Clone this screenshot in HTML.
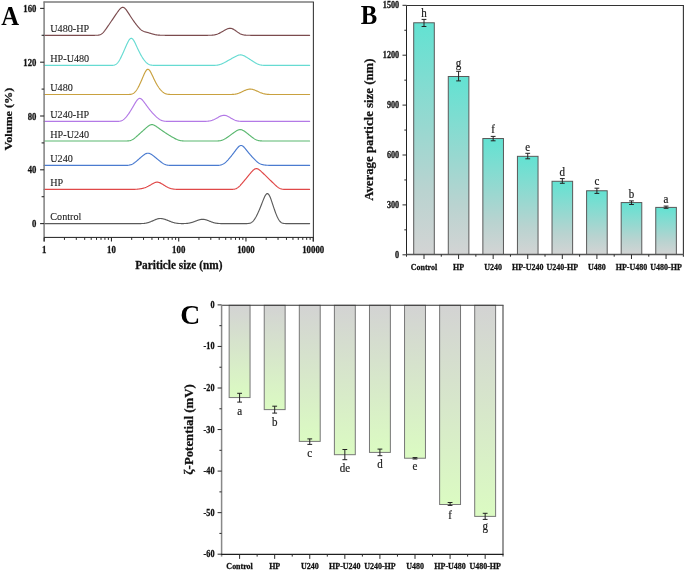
<!DOCTYPE html>
<html><head><meta charset="utf-8"><title>Figure</title>
<style>
html,body{margin:0;padding:0;background:#fff;}
body{width:685px;height:572px;overflow:hidden;font-family:"Liberation Serif",serif;}
svg{display:block;will-change:transform;}
</style></head><body>
<svg width="685" height="572" viewBox="0 0 685 572" font-family='"Liberation Serif", serif'><defs><linearGradient id="gB" x1="0" y1="0" x2="0" y2="1"><stop offset="0" stop-color="#62e2d2"/><stop offset="0.45" stop-color="#98d8d0"/><stop offset="0.72" stop-color="#b9d3d0"/><stop offset="1" stop-color="#d3d4d4"/></linearGradient><linearGradient id="gC" x1="0" y1="0" x2="0" y2="1"><stop offset="0" stop-color="#d3d3d3"/><stop offset="1" stop-color="#dbfbc2"/></linearGradient></defs><g fill="none" stroke-linejoin="round" stroke-linecap="round">
<polyline points="44.1,35.30 44.6,35.30 45.1,35.30 45.6,35.30 46.1,35.30 46.6,35.30 47.1,35.30 47.6,35.30 48.1,35.30 48.6,35.30 49.1,35.30 49.6,35.30 50.1,35.30 50.6,35.30 51.1,35.30 51.6,35.30 52.1,35.30 52.6,35.30 53.1,35.30 53.6,35.30 54.1,35.30 54.6,35.30 55.1,35.30 55.6,35.30 56.1,35.30 56.6,35.30 57.1,35.30 57.6,35.30 58.1,35.30 58.6,35.30 59.1,35.30 59.6,35.30 60.1,35.30 60.6,35.30 61.1,35.30 61.6,35.30 62.1,35.30 62.6,35.30 63.1,35.30 63.6,35.30 64.1,35.30 64.6,35.30 65.1,35.30 65.6,35.30 66.1,35.30 66.6,35.30 67.1,35.30 67.6,35.30 68.1,35.30 68.6,35.30 69.1,35.30 69.6,35.30 70.1,35.30 70.6,35.30 71.1,35.30 71.6,35.30 72.1,35.30 72.6,35.30 73.1,35.30 73.6,35.30 74.1,35.30 74.6,35.30 75.1,35.30 75.6,35.30 76.1,35.30 76.6,35.30 77.1,35.30 77.6,35.30 78.1,35.30 78.6,35.30 79.1,35.30 79.6,35.30 80.1,35.30 80.6,35.30 81.1,35.30 81.6,35.30 82.1,35.30 82.6,35.30 83.1,35.30 83.6,35.30 84.1,35.30 84.6,35.30 85.1,35.30 85.6,35.30 86.1,35.30 86.6,35.30 87.1,35.30 87.6,35.30 88.1,35.30 88.6,35.30 89.1,35.30 89.6,35.30 90.1,35.30 90.6,35.30 91.1,35.30 91.6,35.30 92.1,35.30 92.6,35.30 93.1,35.30 93.6,35.30 94.1,35.30 94.6,35.30 95.1,35.29 95.6,35.29 96.1,35.28 96.6,35.27 97.1,35.24 97.6,35.21 98.1,35.16 98.6,35.09 99.1,34.99 99.6,34.86 100.1,34.69 100.6,34.47 101.1,34.20 101.6,33.88 102.1,33.50 102.6,33.06 103.1,32.58 103.6,32.04 104.1,31.46 104.6,30.84 105.1,30.19 105.6,29.51 106.1,28.82 106.6,28.11 107.1,27.39 107.6,26.67 108.1,25.94 108.6,25.21 109.1,24.47 109.6,23.74 110.1,23.00 110.6,22.27 111.1,21.53 111.6,20.79 112.1,20.06 112.6,19.32 113.1,18.58 113.6,17.85 114.1,17.11 114.6,16.38 115.1,15.64 115.6,14.91 116.1,14.18 116.6,13.45 117.1,12.73 117.6,12.02 118.1,11.32 118.6,10.64 119.1,10.00 119.6,9.39 120.1,8.84 120.6,8.35 121.1,7.94 121.6,7.62 122.1,7.41 122.6,7.31 123.1,7.33 123.6,7.46 124.1,7.72 124.6,8.08 125.1,8.53 125.6,9.08 126.1,9.69 126.6,10.35 127.1,11.06 127.6,11.81 128.1,12.57 128.6,13.34 129.1,14.13 129.6,14.91 130.1,15.69 130.6,16.47 131.1,17.24 131.6,18.01 132.1,18.76 132.6,19.50 133.1,20.23 133.6,20.95 134.1,21.65 134.6,22.34 135.1,23.02 135.6,23.69 136.1,24.34 136.6,24.98 137.1,25.61 137.6,26.23 138.1,26.82 138.6,27.40 139.1,27.95 139.6,28.48 140.1,28.98 140.6,29.43 141.1,29.85 141.6,30.23 142.1,30.56 142.6,30.85 143.1,31.11 143.6,31.32 144.1,31.51 144.6,31.68 145.1,31.83 145.6,31.97 146.1,32.10 146.6,32.23 147.1,32.36 147.6,32.50 148.1,32.64 148.6,32.79 149.1,32.94 149.6,33.10 150.1,33.25 150.6,33.41 151.1,33.57 151.6,33.72 152.1,33.87 152.6,34.02 153.1,34.15 153.6,34.29 154.1,34.41 154.6,34.53 155.1,34.64 155.6,34.73 156.1,34.82 156.6,34.90 157.1,34.97 157.6,35.03 158.1,35.08 158.6,35.12 159.1,35.16 159.6,35.19 160.1,35.22 160.6,35.24 161.1,35.25 161.6,35.27 162.1,35.27 162.6,35.28 163.1,35.29 163.6,35.29 164.1,35.29 164.6,35.30 165.1,35.30 165.6,35.30 166.1,35.30 166.6,35.30 167.1,35.30 167.6,35.30 168.1,35.30 168.6,35.30 169.1,35.30 169.6,35.30 170.1,35.30 170.6,35.30 171.1,35.30 171.6,35.30 172.1,35.30 172.6,35.30 173.1,35.30 173.6,35.30 174.1,35.30 174.6,35.30 175.1,35.30 175.6,35.30 176.1,35.30 176.6,35.30 177.1,35.30 177.6,35.30 178.1,35.30 178.6,35.30 179.1,35.30 179.6,35.30 180.1,35.30 180.6,35.30 181.1,35.30 181.6,35.30 182.1,35.30 182.6,35.30 183.1,35.30 183.6,35.30 184.1,35.30 184.6,35.30 185.1,35.30 185.6,35.30 186.1,35.30 186.6,35.30 187.1,35.30 187.6,35.30 188.1,35.30 188.6,35.30 189.1,35.30 189.6,35.30 190.1,35.30 190.6,35.30 191.1,35.30 191.6,35.30 192.1,35.30 192.6,35.30 193.1,35.30 193.6,35.30 194.1,35.30 194.6,35.30 195.1,35.30 195.6,35.30 196.1,35.30 196.6,35.30 197.1,35.30 197.6,35.30 198.1,35.30 198.6,35.30 199.1,35.30 199.6,35.30 200.1,35.30 200.6,35.30 201.1,35.30 201.6,35.30 202.1,35.30 202.6,35.30 203.1,35.30 203.6,35.30 204.1,35.30 204.6,35.30 205.1,35.30 205.6,35.30 206.1,35.30 206.6,35.30 207.1,35.30 207.6,35.30 208.1,35.29 208.6,35.29 209.1,35.28 209.6,35.28 210.1,35.26 210.6,35.25 211.1,35.23 211.6,35.21 212.1,35.17 212.6,35.13 213.1,35.08 213.6,35.02 214.1,34.95 214.6,34.86 215.1,34.76 215.6,34.64 216.1,34.51 216.6,34.36 217.1,34.19 217.6,34.01 218.1,33.81 218.6,33.59 219.1,33.37 219.6,33.12 220.1,32.87 220.6,32.61 221.1,32.33 221.6,32.05 222.1,31.76 222.6,31.47 223.1,31.18 223.6,30.88 224.1,30.58 224.6,30.29 225.1,30.00 225.6,29.73 226.1,29.46 226.6,29.21 227.1,28.99 227.6,28.79 228.1,28.62 228.6,28.48 229.1,28.38 229.6,28.32 230.1,28.30 230.6,28.33 231.1,28.40 231.6,28.52 232.1,28.67 232.6,28.87 233.1,29.11 233.6,29.37 234.1,29.67 234.6,29.99 235.1,30.32 235.6,30.67 236.1,31.03 236.6,31.39 237.1,31.75 237.6,32.11 238.1,32.45 238.6,32.78 239.1,33.09 239.6,33.39 240.1,33.66 240.6,33.91 241.1,34.14 241.6,34.34 242.1,34.51 242.6,34.67 243.1,34.80 243.6,34.91 244.1,35.00 244.6,35.07 245.1,35.13 245.6,35.17 246.1,35.21 246.6,35.23 247.1,35.25 247.6,35.27 248.1,35.28 248.6,35.29 249.1,35.29 249.6,35.29 250.1,35.30 250.6,35.30 251.1,35.30 251.6,35.30 252.1,35.30 252.6,35.30 253.1,35.30 253.6,35.30 254.1,35.30 254.6,35.30 255.1,35.30 255.6,35.30 256.1,35.30 256.6,35.30 257.1,35.30 257.6,35.30 258.1,35.30 258.6,35.30 259.1,35.30 259.6,35.30 260.1,35.30 260.6,35.30 261.1,35.30 261.6,35.30 262.1,35.30 262.6,35.30 263.1,35.30 263.6,35.30 264.1,35.30 264.6,35.30 265.1,35.30 265.6,35.30 266.1,35.30 266.6,35.30 267.1,35.30 267.6,35.30 268.1,35.30 268.6,35.30 269.1,35.30 269.6,35.30 270.1,35.30 270.6,35.30 271.1,35.30 271.6,35.30 272.1,35.30 272.6,35.30 273.1,35.30 273.6,35.30 274.1,35.30 274.6,35.30 275.1,35.30 275.6,35.30 276.1,35.30 276.6,35.30 277.1,35.30 277.6,35.30 278.1,35.30 278.6,35.30 279.1,35.30 279.6,35.30 280.1,35.30 280.6,35.30 281.1,35.30 281.6,35.30 282.1,35.30 282.6,35.30 283.1,35.30 283.6,35.30 284.1,35.30 284.6,35.30 285.1,35.30 285.6,35.30 286.1,35.30 286.6,35.30 287.1,35.30 287.6,35.30 288.1,35.30 288.6,35.30 289.1,35.30 289.6,35.30 290.1,35.30 290.6,35.30 291.1,35.30 291.6,35.30 292.1,35.30 292.6,35.30 293.1,35.30 293.6,35.30 294.1,35.30 294.6,35.30 295.1,35.30 295.6,35.30 296.1,35.30 296.6,35.30 297.1,35.30 297.6,35.30 298.1,35.30 298.6,35.30 299.1,35.30 299.6,35.30 300.1,35.30 300.6,35.30 301.1,35.30 301.6,35.30 302.1,35.30 302.6,35.30 303.1,35.30 303.6,35.30 304.1,35.30 304.6,35.30 305.1,35.30 305.6,35.30 306.1,35.30 306.6,35.30 307.1,35.30 307.6,35.30 308.1,35.30 308.6,35.30 309.1,35.30 309.6,35.30" stroke="#7b4b4e" stroke-width="1.15"/>
<polyline points="44.1,65.40 44.6,65.40 45.1,65.40 45.6,65.40 46.1,65.40 46.6,65.40 47.1,65.40 47.6,65.40 48.1,65.40 48.6,65.40 49.1,65.40 49.6,65.40 50.1,65.40 50.6,65.40 51.1,65.40 51.6,65.40 52.1,65.40 52.6,65.40 53.1,65.40 53.6,65.40 54.1,65.40 54.6,65.40 55.1,65.40 55.6,65.40 56.1,65.40 56.6,65.40 57.1,65.40 57.6,65.40 58.1,65.40 58.6,65.40 59.1,65.40 59.6,65.40 60.1,65.40 60.6,65.40 61.1,65.40 61.6,65.40 62.1,65.40 62.6,65.40 63.1,65.40 63.6,65.40 64.1,65.40 64.6,65.40 65.1,65.40 65.6,65.40 66.1,65.40 66.6,65.40 67.1,65.40 67.6,65.40 68.1,65.40 68.6,65.40 69.1,65.40 69.6,65.40 70.1,65.40 70.6,65.40 71.1,65.40 71.6,65.40 72.1,65.40 72.6,65.40 73.1,65.40 73.6,65.40 74.1,65.40 74.6,65.40 75.1,65.40 75.6,65.40 76.1,65.40 76.6,65.40 77.1,65.40 77.6,65.40 78.1,65.40 78.6,65.40 79.1,65.40 79.6,65.40 80.1,65.40 80.6,65.40 81.1,65.40 81.6,65.40 82.1,65.40 82.6,65.40 83.1,65.40 83.6,65.40 84.1,65.40 84.6,65.40 85.1,65.40 85.6,65.40 86.1,65.40 86.6,65.40 87.1,65.40 87.6,65.40 88.1,65.40 88.6,65.40 89.1,65.40 89.6,65.40 90.1,65.40 90.6,65.40 91.1,65.40 91.6,65.40 92.1,65.40 92.6,65.40 93.1,65.40 93.6,65.40 94.1,65.40 94.6,65.40 95.1,65.40 95.6,65.40 96.1,65.40 96.6,65.40 97.1,65.40 97.6,65.40 98.1,65.40 98.6,65.40 99.1,65.40 99.6,65.40 100.1,65.40 100.6,65.40 101.1,65.40 101.6,65.40 102.1,65.40 102.6,65.40 103.1,65.40 103.6,65.40 104.1,65.40 104.6,65.40 105.1,65.40 105.6,65.40 106.1,65.40 106.6,65.40 107.1,65.40 107.6,65.40 108.1,65.40 108.6,65.40 109.1,65.40 109.6,65.40 110.1,65.40 110.6,65.39 111.1,65.38 111.6,65.37 112.1,65.35 112.6,65.32 113.1,65.27 113.6,65.20 114.1,65.10 114.6,64.97 115.1,64.78 115.6,64.54 116.1,64.24 116.6,63.86 117.1,63.41 117.6,62.88 118.1,62.26 118.6,61.57 119.1,60.80 119.6,59.96 120.1,59.07 120.6,58.12 121.1,57.12 121.6,56.09 122.1,55.02 122.6,53.93 123.1,52.81 123.6,51.68 124.1,50.54 124.6,49.39 125.1,48.23 125.6,47.08 126.1,45.93 126.6,44.80 127.1,43.70 127.6,42.65 128.1,41.66 128.6,40.76 129.1,39.96 129.6,39.30 130.1,38.80 130.6,38.46 131.1,38.31 131.6,38.35 132.1,38.58 132.6,38.99 133.1,39.57 133.6,40.29 134.1,41.13 134.6,42.06 135.1,43.07 135.6,44.12 136.1,45.20 136.6,46.29 137.1,47.38 137.6,48.47 138.1,49.53 138.6,50.57 139.1,51.59 139.6,52.57 140.1,53.53 140.6,54.46 141.1,55.35 141.6,56.22 142.1,57.04 142.6,57.84 143.1,58.59 143.6,59.31 144.1,59.99 144.6,60.64 145.1,61.24 145.6,61.80 146.1,62.31 146.6,62.79 147.1,63.21 147.6,63.60 148.1,63.93 148.6,64.23 149.1,64.48 149.6,64.69 150.1,64.86 150.6,65.00 151.1,65.11 151.6,65.19 152.1,65.26 152.6,65.30 153.1,65.34 153.6,65.36 154.1,65.37 154.6,65.38 155.1,65.39 155.6,65.39 156.1,65.40 156.6,65.40 157.1,65.40 157.6,65.40 158.1,65.40 158.6,65.40 159.1,65.40 159.6,65.40 160.1,65.40 160.6,65.40 161.1,65.40 161.6,65.40 162.1,65.40 162.6,65.40 163.1,65.40 163.6,65.40 164.1,65.40 164.6,65.40 165.1,65.40 165.6,65.40 166.1,65.40 166.6,65.40 167.1,65.40 167.6,65.40 168.1,65.40 168.6,65.40 169.1,65.40 169.6,65.40 170.1,65.40 170.6,65.40 171.1,65.40 171.6,65.40 172.1,65.40 172.6,65.40 173.1,65.40 173.6,65.40 174.1,65.40 174.6,65.40 175.1,65.40 175.6,65.40 176.1,65.40 176.6,65.40 177.1,65.40 177.6,65.40 178.1,65.40 178.6,65.40 179.1,65.40 179.6,65.40 180.1,65.40 180.6,65.40 181.1,65.40 181.6,65.40 182.1,65.40 182.6,65.40 183.1,65.40 183.6,65.40 184.1,65.40 184.6,65.40 185.1,65.40 185.6,65.40 186.1,65.40 186.6,65.40 187.1,65.40 187.6,65.40 188.1,65.40 188.6,65.40 189.1,65.40 189.6,65.40 190.1,65.40 190.6,65.40 191.1,65.40 191.6,65.40 192.1,65.40 192.6,65.40 193.1,65.40 193.6,65.40 194.1,65.40 194.6,65.40 195.1,65.40 195.6,65.40 196.1,65.40 196.6,65.40 197.1,65.40 197.6,65.40 198.1,65.40 198.6,65.40 199.1,65.40 199.6,65.40 200.1,65.40 200.6,65.40 201.1,65.40 201.6,65.40 202.1,65.40 202.6,65.40 203.1,65.40 203.6,65.40 204.1,65.40 204.6,65.40 205.1,65.40 205.6,65.40 206.1,65.40 206.6,65.40 207.1,65.40 207.6,65.40 208.1,65.40 208.6,65.40 209.1,65.40 209.6,65.40 210.1,65.40 210.6,65.40 211.1,65.40 211.6,65.40 212.1,65.39 212.6,65.39 213.1,65.38 213.6,65.38 214.1,65.36 214.6,65.35 215.1,65.33 215.6,65.30 216.1,65.26 216.6,65.21 217.1,65.15 217.6,65.08 218.1,64.99 218.6,64.88 219.1,64.76 219.6,64.62 220.1,64.47 220.6,64.30 221.1,64.11 221.6,63.91 222.1,63.69 222.6,63.46 223.1,63.22 223.6,62.98 224.1,62.72 224.6,62.47 225.1,62.20 225.6,61.93 226.1,61.66 226.6,61.39 227.1,61.12 227.6,60.84 228.1,60.56 228.6,60.28 229.1,60.00 229.6,59.72 230.1,59.44 230.6,59.16 231.1,58.88 231.6,58.60 232.1,58.32 232.6,58.04 233.1,57.76 233.6,57.48 234.1,57.20 234.6,56.93 235.1,56.66 235.6,56.40 236.1,56.15 236.6,55.91 237.1,55.69 237.6,55.49 238.1,55.31 238.6,55.16 239.1,55.05 239.6,54.96 240.1,54.91 240.6,54.90 241.1,54.93 241.6,55.00 242.1,55.10 242.6,55.25 243.1,55.42 243.6,55.62 244.1,55.85 244.6,56.10 245.1,56.37 245.6,56.65 246.1,56.95 246.6,57.25 247.1,57.56 247.6,57.87 248.1,58.19 248.6,58.51 249.1,58.83 249.6,59.16 250.1,59.48 250.6,59.80 251.1,60.13 251.6,60.45 252.1,60.77 252.6,61.09 253.1,61.41 253.6,61.72 254.1,62.04 254.6,62.34 255.1,62.64 255.6,62.93 256.1,63.21 256.6,63.48 257.1,63.73 257.6,63.96 258.1,64.18 258.6,64.38 259.1,64.56 259.6,64.71 260.1,64.85 260.6,64.96 261.1,65.06 261.6,65.14 262.1,65.21 262.6,65.26 263.1,65.30 263.6,65.33 264.1,65.35 264.6,65.37 265.1,65.38 265.6,65.39 266.1,65.39 266.6,65.39 267.1,65.40 267.6,65.40 268.1,65.40 268.6,65.40 269.1,65.40 269.6,65.40 270.1,65.40 270.6,65.40 271.1,65.40 271.6,65.40 272.1,65.40 272.6,65.40 273.1,65.40 273.6,65.40 274.1,65.40 274.6,65.40 275.1,65.40 275.6,65.40 276.1,65.40 276.6,65.40 277.1,65.40 277.6,65.40 278.1,65.40 278.6,65.40 279.1,65.40 279.6,65.40 280.1,65.40 280.6,65.40 281.1,65.40 281.6,65.40 282.1,65.40 282.6,65.40 283.1,65.40 283.6,65.40 284.1,65.40 284.6,65.40 285.1,65.40 285.6,65.40 286.1,65.40 286.6,65.40 287.1,65.40 287.6,65.40 288.1,65.40 288.6,65.40 289.1,65.40 289.6,65.40 290.1,65.40 290.6,65.40 291.1,65.40 291.6,65.40 292.1,65.40 292.6,65.40 293.1,65.40 293.6,65.40 294.1,65.40 294.6,65.40 295.1,65.40 295.6,65.40 296.1,65.40 296.6,65.40 297.1,65.40 297.6,65.40 298.1,65.40 298.6,65.40 299.1,65.40 299.6,65.40 300.1,65.40 300.6,65.40 301.1,65.40 301.6,65.40 302.1,65.40 302.6,65.40 303.1,65.40 303.6,65.40 304.1,65.40 304.6,65.40 305.1,65.40 305.6,65.40 306.1,65.40 306.6,65.40 307.1,65.40 307.6,65.40 308.1,65.40 308.6,65.40 309.1,65.40 309.6,65.40" stroke="#66dbd2" stroke-width="1.15"/>
<polyline points="44.1,94.50 44.6,94.50 45.1,94.50 45.6,94.50 46.1,94.50 46.6,94.50 47.1,94.50 47.6,94.50 48.1,94.50 48.6,94.50 49.1,94.50 49.6,94.50 50.1,94.50 50.6,94.50 51.1,94.50 51.6,94.50 52.1,94.50 52.6,94.50 53.1,94.50 53.6,94.50 54.1,94.50 54.6,94.50 55.1,94.50 55.6,94.50 56.1,94.50 56.6,94.50 57.1,94.50 57.6,94.50 58.1,94.50 58.6,94.50 59.1,94.50 59.6,94.50 60.1,94.50 60.6,94.50 61.1,94.50 61.6,94.50 62.1,94.50 62.6,94.50 63.1,94.50 63.6,94.50 64.1,94.50 64.6,94.50 65.1,94.50 65.6,94.50 66.1,94.50 66.6,94.50 67.1,94.50 67.6,94.50 68.1,94.50 68.6,94.50 69.1,94.50 69.6,94.50 70.1,94.50 70.6,94.50 71.1,94.50 71.6,94.50 72.1,94.50 72.6,94.50 73.1,94.50 73.6,94.50 74.1,94.50 74.6,94.50 75.1,94.50 75.6,94.50 76.1,94.50 76.6,94.50 77.1,94.50 77.6,94.50 78.1,94.50 78.6,94.50 79.1,94.50 79.6,94.50 80.1,94.50 80.6,94.50 81.1,94.50 81.6,94.50 82.1,94.50 82.6,94.50 83.1,94.50 83.6,94.50 84.1,94.50 84.6,94.50 85.1,94.50 85.6,94.50 86.1,94.50 86.6,94.50 87.1,94.50 87.6,94.50 88.1,94.50 88.6,94.50 89.1,94.50 89.6,94.50 90.1,94.50 90.6,94.50 91.1,94.50 91.6,94.50 92.1,94.50 92.6,94.50 93.1,94.50 93.6,94.50 94.1,94.50 94.6,94.50 95.1,94.50 95.6,94.50 96.1,94.50 96.6,94.50 97.1,94.50 97.6,94.50 98.1,94.50 98.6,94.50 99.1,94.50 99.6,94.50 100.1,94.50 100.6,94.50 101.1,94.50 101.6,94.50 102.1,94.50 102.6,94.50 103.1,94.50 103.6,94.50 104.1,94.50 104.6,94.50 105.1,94.50 105.6,94.50 106.1,94.50 106.6,94.50 107.1,94.50 107.6,94.50 108.1,94.50 108.6,94.50 109.1,94.50 109.6,94.50 110.1,94.50 110.6,94.50 111.1,94.50 111.6,94.50 112.1,94.50 112.6,94.50 113.1,94.50 113.6,94.50 114.1,94.50 114.6,94.50 115.1,94.50 115.6,94.50 116.1,94.50 116.6,94.50 117.1,94.50 117.6,94.50 118.1,94.50 118.6,94.50 119.1,94.50 119.6,94.50 120.1,94.50 120.6,94.50 121.1,94.50 121.6,94.50 122.1,94.50 122.6,94.50 123.1,94.50 123.6,94.50 124.1,94.50 124.6,94.50 125.1,94.50 125.6,94.50 126.1,94.50 126.6,94.50 127.1,94.50 127.6,94.49 128.1,94.48 128.6,94.47 129.1,94.46 129.6,94.43 130.1,94.39 130.6,94.33 131.1,94.25 131.6,94.14 132.1,93.99 132.6,93.80 133.1,93.55 133.6,93.25 134.1,92.89 134.6,92.46 135.1,91.95 135.6,91.38 136.1,90.75 136.6,90.04 137.1,89.27 137.6,88.44 138.1,87.56 138.6,86.62 139.1,85.64 139.6,84.61 140.1,83.55 140.6,82.45 141.1,81.32 141.6,80.16 142.1,78.98 142.6,77.80 143.1,76.61 143.6,75.44 144.1,74.31 144.6,73.23 145.1,72.23 145.6,71.34 146.1,70.58 146.6,69.98 147.1,69.56 147.6,69.34 148.1,69.32 148.6,69.50 149.1,69.88 149.6,70.43 150.1,71.13 150.6,71.96 151.1,72.89 151.6,73.89 152.1,74.94 152.6,76.01 153.1,77.09 153.6,78.17 154.1,79.22 154.6,80.26 155.1,81.26 155.6,82.23 156.1,83.16 156.6,84.06 157.1,84.92 157.6,85.75 158.1,86.53 158.6,87.28 159.1,87.99 159.6,88.66 160.1,89.29 160.6,89.88 161.1,90.43 161.6,90.94 162.1,91.41 162.6,91.85 163.1,92.24 163.6,92.60 164.1,92.92 164.6,93.20 165.1,93.45 165.6,93.66 166.1,93.84 166.6,93.99 167.1,94.11 167.6,94.21 168.1,94.29 168.6,94.35 169.1,94.40 169.6,94.43 170.1,94.45 170.6,94.47 171.1,94.48 171.6,94.49 172.1,94.49 172.6,94.50 173.1,94.50 173.6,94.50 174.1,94.50 174.6,94.50 175.1,94.50 175.6,94.50 176.1,94.50 176.6,94.50 177.1,94.50 177.6,94.50 178.1,94.50 178.6,94.50 179.1,94.50 179.6,94.50 180.1,94.50 180.6,94.50 181.1,94.50 181.6,94.50 182.1,94.50 182.6,94.50 183.1,94.50 183.6,94.50 184.1,94.50 184.6,94.50 185.1,94.50 185.6,94.50 186.1,94.50 186.6,94.50 187.1,94.50 187.6,94.50 188.1,94.50 188.6,94.50 189.1,94.50 189.6,94.50 190.1,94.50 190.6,94.50 191.1,94.50 191.6,94.50 192.1,94.50 192.6,94.50 193.1,94.50 193.6,94.50 194.1,94.50 194.6,94.50 195.1,94.50 195.6,94.50 196.1,94.50 196.6,94.50 197.1,94.50 197.6,94.50 198.1,94.50 198.6,94.50 199.1,94.50 199.6,94.50 200.1,94.50 200.6,94.50 201.1,94.50 201.6,94.50 202.1,94.50 202.6,94.50 203.1,94.50 203.6,94.50 204.1,94.50 204.6,94.50 205.1,94.50 205.6,94.50 206.1,94.50 206.6,94.50 207.1,94.50 207.6,94.50 208.1,94.50 208.6,94.50 209.1,94.50 209.6,94.50 210.1,94.50 210.6,94.50 211.1,94.50 211.6,94.50 212.1,94.50 212.6,94.50 213.1,94.50 213.6,94.50 214.1,94.50 214.6,94.50 215.1,94.50 215.6,94.50 216.1,94.50 216.6,94.50 217.1,94.50 217.6,94.50 218.1,94.50 218.6,94.50 219.1,94.50 219.6,94.50 220.1,94.50 220.6,94.50 221.1,94.50 221.6,94.50 222.1,94.50 222.6,94.50 223.1,94.50 223.6,94.50 224.1,94.50 224.6,94.50 225.1,94.50 225.6,94.50 226.1,94.50 226.6,94.50 227.1,94.50 227.6,94.50 228.1,94.50 228.6,94.49 229.1,94.49 229.6,94.49 230.1,94.48 230.6,94.47 231.1,94.46 231.6,94.45 232.1,94.43 232.6,94.40 233.1,94.37 233.6,94.33 234.1,94.28 234.6,94.22 235.1,94.15 235.6,94.06 236.1,93.96 236.6,93.85 237.1,93.72 237.6,93.58 238.1,93.43 238.6,93.26 239.1,93.08 239.6,92.88 240.1,92.68 240.6,92.46 241.1,92.24 241.6,92.01 242.1,91.77 242.6,91.54 243.1,91.30 243.6,91.06 244.1,90.83 244.6,90.60 245.1,90.38 245.6,90.16 246.1,89.97 246.6,89.78 247.1,89.61 247.6,89.47 248.1,89.34 248.6,89.24 249.1,89.17 249.6,89.12 250.1,89.10 250.6,89.11 251.1,89.15 251.6,89.21 252.1,89.30 252.6,89.41 253.1,89.55 253.6,89.70 254.1,89.87 254.6,90.06 255.1,90.26 255.6,90.46 256.1,90.68 256.6,90.90 257.1,91.12 257.6,91.35 258.1,91.58 258.6,91.80 259.1,92.03 259.6,92.24 260.1,92.46 260.6,92.66 261.1,92.86 261.6,93.05 262.1,93.23 262.6,93.39 263.1,93.55 263.6,93.69 264.1,93.82 264.6,93.93 265.1,94.03 265.6,94.12 266.1,94.19 266.6,94.26 267.1,94.31 267.6,94.35 268.1,94.39 268.6,94.42 269.1,94.44 269.6,94.45 270.1,94.47 270.6,94.48 271.1,94.48 271.6,94.49 272.1,94.49 272.6,94.50 273.1,94.50 273.6,94.50 274.1,94.50 274.6,94.50 275.1,94.50 275.6,94.50 276.1,94.50 276.6,94.50 277.1,94.50 277.6,94.50 278.1,94.50 278.6,94.50 279.1,94.50 279.6,94.50 280.1,94.50 280.6,94.50 281.1,94.50 281.6,94.50 282.1,94.50 282.6,94.50 283.1,94.50 283.6,94.50 284.1,94.50 284.6,94.50 285.1,94.50 285.6,94.50 286.1,94.50 286.6,94.50 287.1,94.50 287.6,94.50 288.1,94.50 288.6,94.50 289.1,94.50 289.6,94.50 290.1,94.50 290.6,94.50 291.1,94.50 291.6,94.50 292.1,94.50 292.6,94.50 293.1,94.50 293.6,94.50 294.1,94.50 294.6,94.50 295.1,94.50 295.6,94.50 296.1,94.50 296.6,94.50 297.1,94.50 297.6,94.50 298.1,94.50 298.6,94.50 299.1,94.50 299.6,94.50 300.1,94.50 300.6,94.50 301.1,94.50 301.6,94.50 302.1,94.50 302.6,94.50 303.1,94.50 303.6,94.50 304.1,94.50 304.6,94.50 305.1,94.50 305.6,94.50 306.1,94.50 306.6,94.50 307.1,94.50 307.6,94.50 308.1,94.50 308.6,94.50 309.1,94.50 309.6,94.50" stroke="#c9a13f" stroke-width="1.15"/>
<polyline points="44.1,121.40 44.6,121.40 45.1,121.40 45.6,121.40 46.1,121.40 46.6,121.40 47.1,121.40 47.6,121.40 48.1,121.40 48.6,121.40 49.1,121.40 49.6,121.40 50.1,121.40 50.6,121.40 51.1,121.40 51.6,121.40 52.1,121.40 52.6,121.40 53.1,121.40 53.6,121.40 54.1,121.40 54.6,121.40 55.1,121.40 55.6,121.40 56.1,121.40 56.6,121.40 57.1,121.40 57.6,121.40 58.1,121.40 58.6,121.40 59.1,121.40 59.6,121.40 60.1,121.40 60.6,121.40 61.1,121.40 61.6,121.40 62.1,121.40 62.6,121.40 63.1,121.40 63.6,121.40 64.1,121.40 64.6,121.40 65.1,121.40 65.6,121.40 66.1,121.40 66.6,121.40 67.1,121.40 67.6,121.40 68.1,121.40 68.6,121.40 69.1,121.40 69.6,121.40 70.1,121.40 70.6,121.40 71.1,121.40 71.6,121.40 72.1,121.40 72.6,121.40 73.1,121.40 73.6,121.40 74.1,121.40 74.6,121.40 75.1,121.40 75.6,121.40 76.1,121.40 76.6,121.40 77.1,121.40 77.6,121.40 78.1,121.40 78.6,121.40 79.1,121.40 79.6,121.40 80.1,121.40 80.6,121.40 81.1,121.40 81.6,121.40 82.1,121.40 82.6,121.40 83.1,121.40 83.6,121.40 84.1,121.40 84.6,121.40 85.1,121.40 85.6,121.40 86.1,121.40 86.6,121.40 87.1,121.40 87.6,121.40 88.1,121.40 88.6,121.40 89.1,121.40 89.6,121.40 90.1,121.40 90.6,121.40 91.1,121.40 91.6,121.40 92.1,121.40 92.6,121.40 93.1,121.40 93.6,121.40 94.1,121.40 94.6,121.40 95.1,121.40 95.6,121.40 96.1,121.40 96.6,121.40 97.1,121.40 97.6,121.40 98.1,121.40 98.6,121.40 99.1,121.40 99.6,121.40 100.1,121.40 100.6,121.40 101.1,121.40 101.6,121.40 102.1,121.40 102.6,121.40 103.1,121.40 103.6,121.40 104.1,121.40 104.6,121.40 105.1,121.40 105.6,121.40 106.1,121.40 106.6,121.40 107.1,121.40 107.6,121.40 108.1,121.40 108.6,121.40 109.1,121.40 109.6,121.40 110.1,121.40 110.6,121.40 111.1,121.40 111.6,121.40 112.1,121.40 112.6,121.40 113.1,121.40 113.6,121.40 114.1,121.40 114.6,121.40 115.1,121.40 115.6,121.40 116.1,121.39 116.6,121.39 117.1,121.38 117.6,121.36 118.1,121.34 118.6,121.31 119.1,121.26 119.6,121.20 120.1,121.11 120.6,121.00 121.1,120.85 121.6,120.67 122.1,120.45 122.6,120.18 123.1,119.87 123.6,119.51 124.1,119.11 124.6,118.66 125.1,118.17 125.6,117.64 126.1,117.08 126.6,116.48 127.1,115.85 127.6,115.19 128.1,114.51 128.6,113.80 129.1,113.07 129.6,112.32 130.1,111.55 130.6,110.76 131.1,109.95 131.6,109.13 132.1,108.30 132.6,107.45 133.1,106.59 133.6,105.72 134.1,104.86 134.6,104.00 135.1,103.15 135.6,102.33 136.1,101.54 136.6,100.81 137.1,100.15 137.6,99.57 138.1,99.10 138.6,98.74 139.1,98.51 139.6,98.41 140.1,98.44 140.6,98.59 141.1,98.87 141.6,99.24 142.1,99.71 142.6,100.25 143.1,100.84 143.6,101.48 144.1,102.14 144.6,102.82 145.1,103.51 145.6,104.20 146.1,104.90 146.6,105.58 147.1,106.26 147.6,106.93 148.1,107.60 148.6,108.25 149.1,108.89 149.6,109.52 150.1,110.14 150.6,110.75 151.1,111.35 151.6,111.94 152.1,112.51 152.6,113.07 153.1,113.62 153.6,114.16 154.1,114.68 154.6,115.19 155.1,115.68 155.6,116.16 156.1,116.62 156.6,117.07 157.1,117.50 157.6,117.91 158.1,118.30 158.6,118.67 159.1,119.02 159.6,119.35 160.1,119.65 160.6,119.93 161.1,120.18 161.6,120.40 162.1,120.60 162.6,120.77 163.1,120.91 163.6,121.03 164.1,121.12 164.6,121.20 165.1,121.26 165.6,121.30 166.1,121.33 166.6,121.36 167.1,121.37 167.6,121.38 168.1,121.39 168.6,121.39 169.1,121.40 169.6,121.40 170.1,121.40 170.6,121.40 171.1,121.40 171.6,121.40 172.1,121.40 172.6,121.40 173.1,121.40 173.6,121.40 174.1,121.40 174.6,121.40 175.1,121.40 175.6,121.40 176.1,121.40 176.6,121.40 177.1,121.40 177.6,121.40 178.1,121.40 178.6,121.40 179.1,121.40 179.6,121.40 180.1,121.40 180.6,121.40 181.1,121.40 181.6,121.40 182.1,121.40 182.6,121.40 183.1,121.40 183.6,121.40 184.1,121.40 184.6,121.40 185.1,121.40 185.6,121.40 186.1,121.40 186.6,121.40 187.1,121.40 187.6,121.40 188.1,121.40 188.6,121.40 189.1,121.40 189.6,121.40 190.1,121.40 190.6,121.40 191.1,121.40 191.6,121.40 192.1,121.40 192.6,121.40 193.1,121.40 193.6,121.40 194.1,121.40 194.6,121.40 195.1,121.40 195.6,121.40 196.1,121.40 196.6,121.40 197.1,121.40 197.6,121.40 198.1,121.40 198.6,121.40 199.1,121.40 199.6,121.40 200.1,121.40 200.6,121.40 201.1,121.40 201.6,121.40 202.1,121.40 202.6,121.39 203.1,121.39 203.6,121.39 204.1,121.38 204.6,121.37 205.1,121.36 205.6,121.35 206.1,121.33 206.6,121.30 207.1,121.27 207.6,121.23 208.1,121.18 208.6,121.12 209.1,121.05 209.6,120.96 210.1,120.86 210.6,120.75 211.1,120.62 211.6,120.47 212.1,120.31 212.6,120.13 213.1,119.94 213.6,119.73 214.1,119.50 214.6,119.27 215.1,119.02 215.6,118.76 216.1,118.50 216.6,118.22 217.1,117.95 217.6,117.67 218.1,117.39 218.6,117.11 219.1,116.84 219.6,116.58 220.1,116.34 220.6,116.11 221.1,115.90 221.6,115.72 222.1,115.57 222.6,115.45 223.1,115.36 223.6,115.31 224.1,115.30 224.6,115.33 225.1,115.39 225.6,115.50 226.1,115.63 226.6,115.81 227.1,116.01 227.6,116.23 228.1,116.48 228.6,116.75 229.1,117.03 229.6,117.32 230.1,117.61 230.6,117.92 231.1,118.21 231.6,118.51 232.1,118.80 232.6,119.08 233.1,119.35 233.6,119.60 234.1,119.84 234.6,120.06 235.1,120.26 235.6,120.44 236.1,120.60 236.6,120.75 237.1,120.87 237.6,120.98 238.1,121.07 238.6,121.14 239.1,121.20 239.6,121.25 240.1,121.29 240.6,121.32 241.1,121.34 241.6,121.36 242.1,121.37 242.6,121.38 243.1,121.39 243.6,121.39 244.1,121.39 244.6,121.40 245.1,121.40 245.6,121.40 246.1,121.40 246.6,121.40 247.1,121.40 247.6,121.40 248.1,121.40 248.6,121.40 249.1,121.40 249.6,121.40 250.1,121.40 250.6,121.40 251.1,121.40 251.6,121.40 252.1,121.40 252.6,121.40 253.1,121.40 253.6,121.40 254.1,121.40 254.6,121.40 255.1,121.40 255.6,121.40 256.1,121.40 256.6,121.40 257.1,121.40 257.6,121.40 258.1,121.40 258.6,121.40 259.1,121.40 259.6,121.40 260.1,121.40 260.6,121.40 261.1,121.40 261.6,121.40 262.1,121.40 262.6,121.40 263.1,121.40 263.6,121.40 264.1,121.40 264.6,121.40 265.1,121.40 265.6,121.40 266.1,121.40 266.6,121.40 267.1,121.40 267.6,121.40 268.1,121.40 268.6,121.40 269.1,121.40 269.6,121.40 270.1,121.40 270.6,121.40 271.1,121.40 271.6,121.40 272.1,121.40 272.6,121.40 273.1,121.40 273.6,121.40 274.1,121.40 274.6,121.40 275.1,121.40 275.6,121.40 276.1,121.40 276.6,121.40 277.1,121.40 277.6,121.40 278.1,121.40 278.6,121.40 279.1,121.40 279.6,121.40 280.1,121.40 280.6,121.40 281.1,121.40 281.6,121.40 282.1,121.40 282.6,121.40 283.1,121.40 283.6,121.40 284.1,121.40 284.6,121.40 285.1,121.40 285.6,121.40 286.1,121.40 286.6,121.40 287.1,121.40 287.6,121.40 288.1,121.40 288.6,121.40 289.1,121.40 289.6,121.40 290.1,121.40 290.6,121.40 291.1,121.40 291.6,121.40 292.1,121.40 292.6,121.40 293.1,121.40 293.6,121.40 294.1,121.40 294.6,121.40 295.1,121.40 295.6,121.40 296.1,121.40 296.6,121.40 297.1,121.40 297.6,121.40 298.1,121.40 298.6,121.40 299.1,121.40 299.6,121.40 300.1,121.40 300.6,121.40 301.1,121.40 301.6,121.40 302.1,121.40 302.6,121.40 303.1,121.40 303.6,121.40 304.1,121.40 304.6,121.40 305.1,121.40 305.6,121.40 306.1,121.40 306.6,121.40 307.1,121.40 307.6,121.40 308.1,121.40 308.6,121.40 309.1,121.40 309.6,121.40" stroke="#b379e6" stroke-width="1.15"/>
<polyline points="44.1,141.00 44.6,141.00 45.1,141.00 45.6,141.00 46.1,141.00 46.6,141.00 47.1,141.00 47.6,141.00 48.1,141.00 48.6,141.00 49.1,141.00 49.6,141.00 50.1,141.00 50.6,141.00 51.1,141.00 51.6,141.00 52.1,141.00 52.6,141.00 53.1,141.00 53.6,141.00 54.1,141.00 54.6,141.00 55.1,141.00 55.6,141.00 56.1,141.00 56.6,141.00 57.1,141.00 57.6,141.00 58.1,141.00 58.6,141.00 59.1,141.00 59.6,141.00 60.1,141.00 60.6,141.00 61.1,141.00 61.6,141.00 62.1,141.00 62.6,141.00 63.1,141.00 63.6,141.00 64.1,141.00 64.6,141.00 65.1,141.00 65.6,141.00 66.1,141.00 66.6,141.00 67.1,141.00 67.6,141.00 68.1,141.00 68.6,141.00 69.1,141.00 69.6,141.00 70.1,141.00 70.6,141.00 71.1,141.00 71.6,141.00 72.1,141.00 72.6,141.00 73.1,141.00 73.6,141.00 74.1,141.00 74.6,141.00 75.1,141.00 75.6,141.00 76.1,141.00 76.6,141.00 77.1,141.00 77.6,141.00 78.1,141.00 78.6,141.00 79.1,141.00 79.6,141.00 80.1,141.00 80.6,141.00 81.1,141.00 81.6,141.00 82.1,141.00 82.6,141.00 83.1,141.00 83.6,141.00 84.1,141.00 84.6,141.00 85.1,141.00 85.6,141.00 86.1,141.00 86.6,141.00 87.1,141.00 87.6,141.00 88.1,141.00 88.6,141.00 89.1,141.00 89.6,141.00 90.1,141.00 90.6,141.00 91.1,141.00 91.6,141.00 92.1,141.00 92.6,141.00 93.1,141.00 93.6,141.00 94.1,141.00 94.6,141.00 95.1,141.00 95.6,141.00 96.1,141.00 96.6,141.00 97.1,141.00 97.6,141.00 98.1,141.00 98.6,141.00 99.1,141.00 99.6,141.00 100.1,141.00 100.6,141.00 101.1,141.00 101.6,141.00 102.1,141.00 102.6,141.00 103.1,141.00 103.6,141.00 104.1,141.00 104.6,141.00 105.1,141.00 105.6,141.00 106.1,141.00 106.6,141.00 107.1,141.00 107.6,141.00 108.1,141.00 108.6,141.00 109.1,141.00 109.6,141.00 110.1,141.00 110.6,141.00 111.1,141.00 111.6,141.00 112.1,141.00 112.6,141.00 113.1,141.00 113.6,141.00 114.1,141.00 114.6,141.00 115.1,141.00 115.6,141.00 116.1,141.00 116.6,141.00 117.1,141.00 117.6,141.00 118.1,141.00 118.6,141.00 119.1,141.00 119.6,141.00 120.1,141.00 120.6,141.00 121.1,141.00 121.6,141.00 122.1,141.00 122.6,141.00 123.1,141.00 123.6,141.00 124.1,141.00 124.6,141.00 125.1,141.00 125.6,140.99 126.1,140.99 126.6,140.98 127.1,140.96 127.6,140.94 128.1,140.91 128.6,140.86 129.1,140.80 129.6,140.71 130.1,140.60 130.6,140.46 131.1,140.29 131.6,140.08 132.1,139.84 132.6,139.57 133.1,139.26 133.6,138.92 134.1,138.56 134.6,138.18 135.1,137.77 135.6,137.36 136.1,136.93 136.6,136.49 137.1,136.05 137.6,135.60 138.1,135.15 138.6,134.70 139.1,134.25 139.6,133.80 140.1,133.34 140.6,132.89 141.1,132.44 141.6,131.98 142.1,131.53 142.6,131.08 143.1,130.63 143.6,130.17 144.1,129.72 144.6,129.27 145.1,128.82 145.6,128.38 146.1,127.93 146.6,127.50 147.1,127.07 147.6,126.66 148.1,126.27 148.6,125.90 149.1,125.57 149.6,125.27 150.1,125.02 150.6,124.83 151.1,124.69 151.6,124.62 152.1,124.60 152.6,124.66 153.1,124.77 153.6,124.93 154.1,125.14 154.6,125.39 155.1,125.68 155.6,125.99 156.1,126.32 156.6,126.66 157.1,127.01 157.6,127.36 158.1,127.72 158.6,128.08 159.1,128.44 159.6,128.80 160.1,129.16 160.6,129.51 161.1,129.86 161.6,130.22 162.1,130.57 162.6,130.91 163.1,131.26 163.6,131.60 164.1,131.94 164.6,132.28 165.1,132.61 165.6,132.95 166.1,133.28 166.6,133.60 167.1,133.93 167.6,134.25 168.1,134.57 168.6,134.88 169.1,135.20 169.6,135.51 170.1,135.81 170.6,136.11 171.1,136.41 171.6,136.71 172.1,137.00 172.6,137.28 173.1,137.56 173.6,137.84 174.1,138.11 174.6,138.37 175.1,138.63 175.6,138.88 176.1,139.12 176.6,139.34 177.1,139.56 177.6,139.77 178.1,139.95 178.6,140.13 179.1,140.28 179.6,140.42 180.1,140.54 180.6,140.65 181.1,140.73 181.6,140.80 182.1,140.85 182.6,140.90 183.1,140.93 183.6,140.95 184.1,140.97 184.6,140.98 185.1,140.99 185.6,140.99 186.1,141.00 186.6,141.00 187.1,141.00 187.6,141.00 188.1,141.00 188.6,141.00 189.1,141.00 189.6,141.00 190.1,141.00 190.6,141.00 191.1,141.00 191.6,141.00 192.1,141.00 192.6,141.00 193.1,141.00 193.6,141.00 194.1,141.00 194.6,141.00 195.1,141.00 195.6,141.00 196.1,141.00 196.6,141.00 197.1,141.00 197.6,141.00 198.1,141.00 198.6,141.00 199.1,141.00 199.6,141.00 200.1,141.00 200.6,141.00 201.1,141.00 201.6,141.00 202.1,141.00 202.6,141.00 203.1,141.00 203.6,141.00 204.1,141.00 204.6,141.00 205.1,141.00 205.6,141.00 206.1,141.00 206.6,141.00 207.1,141.00 207.6,141.00 208.1,141.00 208.6,141.00 209.1,141.00 209.6,141.00 210.1,141.00 210.6,141.00 211.1,141.00 211.6,141.00 212.1,141.00 212.6,141.00 213.1,141.00 213.6,141.00 214.1,141.00 214.6,141.00 215.1,140.99 215.6,140.99 216.1,140.98 216.6,140.98 217.1,140.96 217.6,140.95 218.1,140.92 218.6,140.89 219.1,140.84 219.6,140.78 220.1,140.71 220.6,140.62 221.1,140.51 221.6,140.37 222.1,140.22 222.6,140.04 223.1,139.83 223.6,139.61 224.1,139.36 224.6,139.09 225.1,138.80 225.6,138.50 226.1,138.18 226.6,137.85 227.1,137.51 227.6,137.17 228.1,136.82 228.6,136.46 229.1,136.10 229.6,135.74 230.1,135.38 230.6,135.01 231.1,134.65 231.6,134.28 232.1,133.91 232.6,133.55 233.1,133.19 233.6,132.82 234.1,132.47 234.6,132.11 235.1,131.77 235.6,131.43 236.1,131.11 236.6,130.81 237.1,130.53 237.6,130.28 238.1,130.06 238.6,129.88 239.1,129.74 239.6,129.65 240.1,129.60 240.6,129.61 241.1,129.67 241.6,129.78 242.1,129.94 242.6,130.15 243.1,130.40 243.6,130.68 244.1,130.99 244.6,131.33 245.1,131.69 245.6,132.06 246.1,132.45 246.6,132.84 247.1,133.24 247.6,133.65 248.1,134.05 248.6,134.46 249.1,134.86 249.6,135.26 250.1,135.66 250.6,136.06 251.1,136.45 251.6,136.84 252.1,137.22 252.6,137.59 253.1,137.94 253.6,138.29 254.1,138.62 254.6,138.93 255.1,139.22 255.6,139.49 256.1,139.73 256.6,139.95 257.1,140.15 257.6,140.32 258.1,140.46 258.6,140.58 259.1,140.68 259.6,140.76 260.1,140.83 260.6,140.87 261.1,140.91 261.6,140.94 262.1,140.96 262.6,140.97 263.1,140.98 263.6,140.99 264.1,140.99 264.6,141.00 265.1,141.00 265.6,141.00 266.1,141.00 266.6,141.00 267.1,141.00 267.6,141.00 268.1,141.00 268.6,141.00 269.1,141.00 269.6,141.00 270.1,141.00 270.6,141.00 271.1,141.00 271.6,141.00 272.1,141.00 272.6,141.00 273.1,141.00 273.6,141.00 274.1,141.00 274.6,141.00 275.1,141.00 275.6,141.00 276.1,141.00 276.6,141.00 277.1,141.00 277.6,141.00 278.1,141.00 278.6,141.00 279.1,141.00 279.6,141.00 280.1,141.00 280.6,141.00 281.1,141.00 281.6,141.00 282.1,141.00 282.6,141.00 283.1,141.00 283.6,141.00 284.1,141.00 284.6,141.00 285.1,141.00 285.6,141.00 286.1,141.00 286.6,141.00 287.1,141.00 287.6,141.00 288.1,141.00 288.6,141.00 289.1,141.00 289.6,141.00 290.1,141.00 290.6,141.00 291.1,141.00 291.6,141.00 292.1,141.00 292.6,141.00 293.1,141.00 293.6,141.00 294.1,141.00 294.6,141.00 295.1,141.00 295.6,141.00 296.1,141.00 296.6,141.00 297.1,141.00 297.6,141.00 298.1,141.00 298.6,141.00 299.1,141.00 299.6,141.00 300.1,141.00 300.6,141.00 301.1,141.00 301.6,141.00 302.1,141.00 302.6,141.00 303.1,141.00 303.6,141.00 304.1,141.00 304.6,141.00 305.1,141.00 305.6,141.00 306.1,141.00 306.6,141.00 307.1,141.00 307.6,141.00 308.1,141.00 308.6,141.00 309.1,141.00 309.6,141.00" stroke="#5bb870" stroke-width="1.15"/>
<polyline points="44.1,165.40 44.6,165.40 45.1,165.40 45.6,165.40 46.1,165.40 46.6,165.40 47.1,165.40 47.6,165.40 48.1,165.40 48.6,165.40 49.1,165.40 49.6,165.40 50.1,165.40 50.6,165.40 51.1,165.40 51.6,165.40 52.1,165.40 52.6,165.40 53.1,165.40 53.6,165.40 54.1,165.40 54.6,165.40 55.1,165.40 55.6,165.40 56.1,165.40 56.6,165.40 57.1,165.40 57.6,165.40 58.1,165.40 58.6,165.40 59.1,165.40 59.6,165.40 60.1,165.40 60.6,165.40 61.1,165.40 61.6,165.40 62.1,165.40 62.6,165.40 63.1,165.40 63.6,165.40 64.1,165.40 64.6,165.40 65.1,165.40 65.6,165.40 66.1,165.40 66.6,165.40 67.1,165.40 67.6,165.40 68.1,165.40 68.6,165.40 69.1,165.40 69.6,165.40 70.1,165.40 70.6,165.40 71.1,165.40 71.6,165.40 72.1,165.40 72.6,165.40 73.1,165.40 73.6,165.40 74.1,165.40 74.6,165.40 75.1,165.40 75.6,165.40 76.1,165.40 76.6,165.40 77.1,165.40 77.6,165.40 78.1,165.40 78.6,165.40 79.1,165.40 79.6,165.40 80.1,165.40 80.6,165.40 81.1,165.40 81.6,165.40 82.1,165.40 82.6,165.40 83.1,165.40 83.6,165.40 84.1,165.40 84.6,165.40 85.1,165.40 85.6,165.40 86.1,165.40 86.6,165.40 87.1,165.40 87.6,165.40 88.1,165.40 88.6,165.40 89.1,165.40 89.6,165.40 90.1,165.40 90.6,165.40 91.1,165.40 91.6,165.40 92.1,165.40 92.6,165.40 93.1,165.40 93.6,165.40 94.1,165.40 94.6,165.40 95.1,165.40 95.6,165.40 96.1,165.40 96.6,165.40 97.1,165.40 97.6,165.40 98.1,165.40 98.6,165.40 99.1,165.40 99.6,165.40 100.1,165.40 100.6,165.40 101.1,165.40 101.6,165.40 102.1,165.40 102.6,165.40 103.1,165.40 103.6,165.40 104.1,165.40 104.6,165.40 105.1,165.40 105.6,165.40 106.1,165.40 106.6,165.40 107.1,165.40 107.6,165.40 108.1,165.40 108.6,165.40 109.1,165.40 109.6,165.40 110.1,165.40 110.6,165.40 111.1,165.40 111.6,165.40 112.1,165.40 112.6,165.40 113.1,165.40 113.6,165.40 114.1,165.40 114.6,165.40 115.1,165.40 115.6,165.40 116.1,165.40 116.6,165.40 117.1,165.40 117.6,165.40 118.1,165.40 118.6,165.40 119.1,165.40 119.6,165.40 120.1,165.40 120.6,165.40 121.1,165.40 121.6,165.40 122.1,165.40 122.6,165.40 123.1,165.40 123.6,165.40 124.1,165.40 124.6,165.39 125.1,165.39 125.6,165.38 126.1,165.37 126.6,165.36 127.1,165.34 127.6,165.31 128.1,165.27 128.6,165.21 129.1,165.14 129.6,165.05 130.1,164.93 130.6,164.80 131.1,164.63 131.6,164.43 132.1,164.21 132.6,163.95 133.1,163.67 133.6,163.36 134.1,163.02 134.6,162.67 135.1,162.29 135.6,161.90 136.1,161.50 136.6,161.08 137.1,160.66 137.6,160.23 138.1,159.80 138.6,159.36 139.1,158.93 139.6,158.49 140.1,158.05 140.6,157.62 141.1,157.18 141.6,156.75 142.1,156.33 142.6,155.91 143.1,155.51 143.6,155.12 144.1,154.76 144.6,154.41 145.1,154.10 145.6,153.83 146.1,153.60 146.6,153.42 147.1,153.29 147.6,153.22 148.1,153.20 148.6,153.24 149.1,153.34 149.6,153.49 150.1,153.69 150.6,153.93 151.1,154.22 151.6,154.53 152.1,154.87 152.6,155.23 153.1,155.60 153.6,155.99 154.1,156.39 154.6,156.79 155.1,157.20 155.6,157.61 156.1,158.02 156.6,158.44 157.1,158.85 157.6,159.26 158.1,159.68 158.6,160.09 159.1,160.49 159.6,160.90 160.1,161.30 160.6,161.69 161.1,162.07 161.6,162.44 162.1,162.79 162.6,163.13 163.1,163.45 163.6,163.74 164.1,164.01 164.6,164.25 165.1,164.47 165.6,164.66 166.1,164.82 166.6,164.95 167.1,165.06 167.6,165.15 168.1,165.22 168.6,165.27 169.1,165.31 169.6,165.34 170.1,165.36 170.6,165.37 171.1,165.38 171.6,165.39 172.1,165.39 172.6,165.40 173.1,165.40 173.6,165.40 174.1,165.40 174.6,165.40 175.1,165.40 175.6,165.40 176.1,165.40 176.6,165.40 177.1,165.40 177.6,165.40 178.1,165.40 178.6,165.40 179.1,165.40 179.6,165.40 180.1,165.40 180.6,165.40 181.1,165.40 181.6,165.40 182.1,165.40 182.6,165.40 183.1,165.40 183.6,165.40 184.1,165.40 184.6,165.40 185.1,165.40 185.6,165.40 186.1,165.40 186.6,165.40 187.1,165.40 187.6,165.40 188.1,165.40 188.6,165.40 189.1,165.40 189.6,165.40 190.1,165.40 190.6,165.40 191.1,165.40 191.6,165.40 192.1,165.40 192.6,165.40 193.1,165.40 193.6,165.40 194.1,165.40 194.6,165.40 195.1,165.40 195.6,165.40 196.1,165.40 196.6,165.40 197.1,165.40 197.6,165.40 198.1,165.40 198.6,165.40 199.1,165.40 199.6,165.40 200.1,165.40 200.6,165.40 201.1,165.40 201.6,165.40 202.1,165.40 202.6,165.40 203.1,165.40 203.6,165.40 204.1,165.40 204.6,165.40 205.1,165.40 205.6,165.40 206.1,165.40 206.6,165.40 207.1,165.40 207.6,165.40 208.1,165.40 208.6,165.40 209.1,165.40 209.6,165.40 210.1,165.40 210.6,165.40 211.1,165.40 211.6,165.40 212.1,165.40 212.6,165.40 213.1,165.40 213.6,165.40 214.1,165.40 214.6,165.40 215.1,165.40 215.6,165.40 216.1,165.39 216.6,165.39 217.1,165.38 217.6,165.37 218.1,165.35 218.6,165.32 219.1,165.28 219.6,165.22 220.1,165.15 220.6,165.05 221.1,164.92 221.6,164.77 222.1,164.58 222.6,164.35 223.1,164.09 223.6,163.79 224.1,163.46 224.6,163.09 225.1,162.69 225.6,162.26 226.1,161.81 226.6,161.33 227.1,160.83 227.6,160.31 228.1,159.78 228.6,159.22 229.1,158.66 229.6,158.08 230.1,157.48 230.6,156.88 231.1,156.27 231.6,155.64 232.1,155.01 232.6,154.36 233.1,153.71 233.6,153.05 234.1,152.39 234.6,151.71 235.1,151.04 235.6,150.37 236.1,149.70 236.6,149.05 237.1,148.41 237.6,147.81 238.1,147.25 238.6,146.74 239.1,146.30 239.6,145.95 240.1,145.69 240.6,145.53 241.1,145.48 241.6,145.54 242.1,145.71 242.6,145.98 243.1,146.34 243.6,146.78 244.1,147.28 244.6,147.84 245.1,148.42 245.6,149.04 246.1,149.66 246.6,150.29 247.1,150.93 247.6,151.55 248.1,152.17 248.6,152.79 249.1,153.39 249.6,153.98 250.1,154.56 250.6,155.13 251.1,155.69 251.6,156.24 252.1,156.79 252.6,157.33 253.1,157.86 253.6,158.39 254.1,158.91 254.6,159.42 255.1,159.92 255.6,160.41 256.1,160.89 256.6,161.34 257.1,161.78 257.6,162.19 258.1,162.56 258.6,162.91 259.1,163.23 259.6,163.51 260.1,163.76 260.6,163.99 261.1,164.18 261.6,164.35 262.1,164.50 262.6,164.62 263.1,164.73 263.6,164.83 264.1,164.92 264.6,164.99 265.1,165.06 265.6,165.12 266.1,165.17 266.6,165.21 267.1,165.25 267.6,165.28 268.1,165.30 268.6,165.32 269.1,165.34 269.6,165.36 270.1,165.37 270.6,165.37 271.1,165.38 271.6,165.39 272.1,165.39 272.6,165.39 273.1,165.40 273.6,165.40 274.1,165.40 274.6,165.40 275.1,165.40 275.6,165.40 276.1,165.40 276.6,165.40 277.1,165.40 277.6,165.40 278.1,165.40 278.6,165.40 279.1,165.40 279.6,165.40 280.1,165.40 280.6,165.40 281.1,165.40 281.6,165.40 282.1,165.40 282.6,165.40 283.1,165.40 283.6,165.40 284.1,165.40 284.6,165.40 285.1,165.40 285.6,165.40 286.1,165.40 286.6,165.40 287.1,165.40 287.6,165.40 288.1,165.40 288.6,165.40 289.1,165.40 289.6,165.40 290.1,165.40 290.6,165.40 291.1,165.40 291.6,165.40 292.1,165.40 292.6,165.40 293.1,165.40 293.6,165.40 294.1,165.40 294.6,165.40 295.1,165.40 295.6,165.40 296.1,165.40 296.6,165.40 297.1,165.40 297.6,165.40 298.1,165.40 298.6,165.40 299.1,165.40 299.6,165.40 300.1,165.40 300.6,165.40 301.1,165.40 301.6,165.40 302.1,165.40 302.6,165.40 303.1,165.40 303.6,165.40 304.1,165.40 304.6,165.40 305.1,165.40 305.6,165.40 306.1,165.40 306.6,165.40 307.1,165.40 307.6,165.40 308.1,165.40 308.6,165.40 309.1,165.40 309.6,165.40" stroke="#4a7bd0" stroke-width="1.15"/>
<polyline points="44.1,189.40 44.6,189.40 45.1,189.40 45.6,189.40 46.1,189.40 46.6,189.40 47.1,189.40 47.6,189.40 48.1,189.40 48.6,189.40 49.1,189.40 49.6,189.40 50.1,189.40 50.6,189.40 51.1,189.40 51.6,189.40 52.1,189.40 52.6,189.40 53.1,189.40 53.6,189.40 54.1,189.40 54.6,189.40 55.1,189.40 55.6,189.40 56.1,189.40 56.6,189.40 57.1,189.40 57.6,189.40 58.1,189.40 58.6,189.40 59.1,189.40 59.6,189.40 60.1,189.40 60.6,189.40 61.1,189.40 61.6,189.40 62.1,189.40 62.6,189.40 63.1,189.40 63.6,189.40 64.1,189.40 64.6,189.40 65.1,189.40 65.6,189.40 66.1,189.40 66.6,189.40 67.1,189.40 67.6,189.40 68.1,189.40 68.6,189.40 69.1,189.40 69.6,189.40 70.1,189.40 70.6,189.40 71.1,189.40 71.6,189.40 72.1,189.40 72.6,189.40 73.1,189.40 73.6,189.40 74.1,189.40 74.6,189.40 75.1,189.40 75.6,189.40 76.1,189.40 76.6,189.40 77.1,189.40 77.6,189.40 78.1,189.40 78.6,189.40 79.1,189.40 79.6,189.40 80.1,189.40 80.6,189.40 81.1,189.40 81.6,189.40 82.1,189.40 82.6,189.40 83.1,189.40 83.6,189.40 84.1,189.40 84.6,189.40 85.1,189.40 85.6,189.40 86.1,189.40 86.6,189.40 87.1,189.40 87.6,189.40 88.1,189.40 88.6,189.40 89.1,189.40 89.6,189.40 90.1,189.40 90.6,189.40 91.1,189.40 91.6,189.40 92.1,189.40 92.6,189.40 93.1,189.40 93.6,189.40 94.1,189.40 94.6,189.40 95.1,189.40 95.6,189.40 96.1,189.40 96.6,189.40 97.1,189.40 97.6,189.40 98.1,189.40 98.6,189.40 99.1,189.40 99.6,189.40 100.1,189.40 100.6,189.40 101.1,189.40 101.6,189.40 102.1,189.40 102.6,189.40 103.1,189.40 103.6,189.40 104.1,189.40 104.6,189.40 105.1,189.40 105.6,189.40 106.1,189.40 106.6,189.40 107.1,189.40 107.6,189.40 108.1,189.40 108.6,189.40 109.1,189.40 109.6,189.40 110.1,189.40 110.6,189.40 111.1,189.40 111.6,189.40 112.1,189.40 112.6,189.40 113.1,189.40 113.6,189.40 114.1,189.40 114.6,189.40 115.1,189.40 115.6,189.40 116.1,189.40 116.6,189.40 117.1,189.40 117.6,189.40 118.1,189.40 118.6,189.40 119.1,189.40 119.6,189.40 120.1,189.40 120.6,189.40 121.1,189.40 121.6,189.40 122.1,189.40 122.6,189.40 123.1,189.40 123.6,189.40 124.1,189.40 124.6,189.40 125.1,189.40 125.6,189.40 126.1,189.40 126.6,189.40 127.1,189.40 127.6,189.40 128.1,189.40 128.6,189.40 129.1,189.40 129.6,189.40 130.1,189.40 130.6,189.39 131.1,189.39 131.6,189.39 132.1,189.38 132.6,189.38 133.1,189.37 133.6,189.36 134.1,189.35 134.6,189.33 135.1,189.31 135.6,189.29 136.1,189.26 136.6,189.23 137.1,189.20 137.6,189.15 138.1,189.11 138.6,189.05 139.1,188.99 139.6,188.92 140.1,188.85 140.6,188.77 141.1,188.68 141.6,188.58 142.1,188.47 142.6,188.35 143.1,188.23 143.6,188.09 144.1,187.94 144.6,187.79 145.1,187.62 145.6,187.43 146.1,187.24 146.6,187.03 147.1,186.81 147.6,186.57 148.1,186.33 148.6,186.07 149.1,185.80 149.6,185.52 150.1,185.23 150.6,184.93 151.1,184.63 151.6,184.32 152.1,184.02 152.6,183.72 153.1,183.44 153.6,183.17 154.1,182.92 154.6,182.69 155.1,182.50 155.6,182.34 156.1,182.23 156.6,182.15 157.1,182.13 157.6,182.14 158.1,182.21 158.6,182.32 159.1,182.46 159.6,182.65 160.1,182.87 160.6,183.12 161.1,183.39 161.6,183.68 162.1,183.98 162.6,184.30 163.1,184.61 163.6,184.93 164.1,185.25 164.6,185.56 165.1,185.87 165.6,186.16 166.1,186.45 166.6,186.73 167.1,186.99 167.6,187.24 168.1,187.48 168.6,187.70 169.1,187.91 169.6,188.11 170.1,188.28 170.6,188.44 171.1,188.59 171.6,188.72 172.1,188.83 172.6,188.94 173.1,189.02 173.6,189.10 174.1,189.16 174.6,189.21 175.1,189.25 175.6,189.29 176.1,189.32 176.6,189.34 177.1,189.36 177.6,189.37 178.1,189.38 178.6,189.38 179.1,189.39 179.6,189.39 180.1,189.40 180.6,189.40 181.1,189.40 181.6,189.40 182.1,189.40 182.6,189.40 183.1,189.40 183.6,189.40 184.1,189.40 184.6,189.40 185.1,189.40 185.6,189.40 186.1,189.40 186.6,189.40 187.1,189.40 187.6,189.40 188.1,189.40 188.6,189.40 189.1,189.40 189.6,189.40 190.1,189.40 190.6,189.40 191.1,189.40 191.6,189.40 192.1,189.40 192.6,189.40 193.1,189.40 193.6,189.40 194.1,189.40 194.6,189.40 195.1,189.40 195.6,189.40 196.1,189.40 196.6,189.40 197.1,189.40 197.6,189.40 198.1,189.40 198.6,189.40 199.1,189.40 199.6,189.40 200.1,189.40 200.6,189.40 201.1,189.40 201.6,189.40 202.1,189.40 202.6,189.40 203.1,189.40 203.6,189.40 204.1,189.40 204.6,189.40 205.1,189.40 205.6,189.40 206.1,189.40 206.6,189.40 207.1,189.40 207.6,189.40 208.1,189.40 208.6,189.40 209.1,189.40 209.6,189.40 210.1,189.40 210.6,189.40 211.1,189.40 211.6,189.40 212.1,189.40 212.6,189.40 213.1,189.40 213.6,189.40 214.1,189.40 214.6,189.40 215.1,189.40 215.6,189.40 216.1,189.40 216.6,189.40 217.1,189.40 217.6,189.40 218.1,189.40 218.6,189.40 219.1,189.40 219.6,189.40 220.1,189.40 220.6,189.40 221.1,189.40 221.6,189.40 222.1,189.40 222.6,189.40 223.1,189.40 223.6,189.40 224.1,189.40 224.6,189.40 225.1,189.40 225.6,189.40 226.1,189.40 226.6,189.40 227.1,189.40 227.6,189.40 228.1,189.40 228.6,189.40 229.1,189.40 229.6,189.40 230.1,189.40 230.6,189.39 231.1,189.39 231.6,189.38 232.1,189.36 232.6,189.34 233.1,189.30 233.6,189.25 234.1,189.19 234.6,189.09 235.1,188.97 235.6,188.81 236.1,188.61 236.6,188.37 237.1,188.09 237.6,187.76 238.1,187.39 238.6,186.98 239.1,186.53 239.6,186.05 240.1,185.54 240.6,185.00 241.1,184.45 241.6,183.89 242.1,183.31 242.6,182.73 243.1,182.13 243.6,181.54 244.1,180.94 244.6,180.34 245.1,179.73 245.6,179.13 246.1,178.52 246.6,177.91 247.1,177.30 247.6,176.69 248.1,176.07 248.6,175.46 249.1,174.85 249.6,174.24 250.1,173.63 250.6,173.03 251.1,172.44 251.6,171.86 252.1,171.30 252.6,170.78 253.1,170.28 253.6,169.84 254.1,169.45 254.6,169.12 255.1,168.87 255.6,168.70 256.1,168.61 256.6,168.61 257.1,168.69 257.6,168.85 258.1,169.07 258.6,169.36 259.1,169.70 259.6,170.08 260.1,170.49 260.6,170.92 261.1,171.37 261.6,171.84 262.1,172.31 262.6,172.78 263.1,173.26 263.6,173.75 264.1,174.23 264.6,174.71 265.1,175.20 265.6,175.68 266.1,176.17 266.6,176.65 267.1,177.14 267.6,177.62 268.1,178.11 268.6,178.59 269.1,179.08 269.6,179.56 270.1,180.05 270.6,180.53 271.1,181.01 271.6,181.50 272.1,181.98 272.6,182.47 273.1,182.95 273.6,183.43 274.1,183.91 274.6,184.39 275.1,184.86 275.6,185.32 276.1,185.77 276.6,186.21 277.1,186.63 277.6,187.03 278.1,187.40 278.6,187.74 279.1,188.05 279.6,188.32 280.1,188.55 280.6,188.75 281.1,188.92 281.6,189.05 282.1,189.15 282.6,189.23 283.1,189.28 283.6,189.32 284.1,189.35 284.6,189.37 285.1,189.38 285.6,189.39 286.1,189.39 286.6,189.40 287.1,189.40 287.6,189.40 288.1,189.40 288.6,189.40 289.1,189.40 289.6,189.40 290.1,189.40 290.6,189.40 291.1,189.40 291.6,189.40 292.1,189.40 292.6,189.40 293.1,189.40 293.6,189.40 294.1,189.40 294.6,189.40 295.1,189.40 295.6,189.40 296.1,189.40 296.6,189.40 297.1,189.40 297.6,189.40 298.1,189.40 298.6,189.40 299.1,189.40 299.6,189.40 300.1,189.40 300.6,189.40 301.1,189.40 301.6,189.40 302.1,189.40 302.6,189.40 303.1,189.40 303.6,189.40 304.1,189.40 304.6,189.40 305.1,189.40 305.6,189.40 306.1,189.40 306.6,189.40 307.1,189.40 307.6,189.40 308.1,189.40 308.6,189.40 309.1,189.40 309.6,189.40" stroke="#e04848" stroke-width="1.15"/>
<polyline points="44.1,223.60 44.6,223.60 45.1,223.60 45.6,223.60 46.1,223.60 46.6,223.60 47.1,223.60 47.6,223.60 48.1,223.60 48.6,223.60 49.1,223.60 49.6,223.60 50.1,223.60 50.6,223.60 51.1,223.60 51.6,223.60 52.1,223.60 52.6,223.60 53.1,223.60 53.6,223.60 54.1,223.60 54.6,223.60 55.1,223.60 55.6,223.60 56.1,223.60 56.6,223.60 57.1,223.60 57.6,223.60 58.1,223.60 58.6,223.60 59.1,223.60 59.6,223.60 60.1,223.60 60.6,223.60 61.1,223.60 61.6,223.60 62.1,223.60 62.6,223.60 63.1,223.60 63.6,223.60 64.1,223.60 64.6,223.60 65.1,223.60 65.6,223.60 66.1,223.60 66.6,223.60 67.1,223.60 67.6,223.60 68.1,223.60 68.6,223.60 69.1,223.60 69.6,223.60 70.1,223.60 70.6,223.60 71.1,223.60 71.6,223.60 72.1,223.60 72.6,223.60 73.1,223.60 73.6,223.60 74.1,223.60 74.6,223.60 75.1,223.60 75.6,223.60 76.1,223.60 76.6,223.60 77.1,223.60 77.6,223.60 78.1,223.60 78.6,223.60 79.1,223.60 79.6,223.60 80.1,223.60 80.6,223.60 81.1,223.60 81.6,223.60 82.1,223.60 82.6,223.60 83.1,223.60 83.6,223.60 84.1,223.60 84.6,223.60 85.1,223.60 85.6,223.60 86.1,223.60 86.6,223.60 87.1,223.60 87.6,223.60 88.1,223.60 88.6,223.60 89.1,223.60 89.6,223.60 90.1,223.60 90.6,223.60 91.1,223.60 91.6,223.60 92.1,223.60 92.6,223.60 93.1,223.60 93.6,223.60 94.1,223.60 94.6,223.60 95.1,223.60 95.6,223.60 96.1,223.60 96.6,223.60 97.1,223.60 97.6,223.60 98.1,223.60 98.6,223.60 99.1,223.60 99.6,223.60 100.1,223.60 100.6,223.60 101.1,223.60 101.6,223.60 102.1,223.60 102.6,223.60 103.1,223.60 103.6,223.60 104.1,223.60 104.6,223.60 105.1,223.60 105.6,223.60 106.1,223.60 106.6,223.60 107.1,223.60 107.6,223.60 108.1,223.60 108.6,223.60 109.1,223.60 109.6,223.60 110.1,223.60 110.6,223.60 111.1,223.60 111.6,223.60 112.1,223.60 112.6,223.60 113.1,223.60 113.6,223.60 114.1,223.60 114.6,223.60 115.1,223.60 115.6,223.60 116.1,223.60 116.6,223.60 117.1,223.60 117.6,223.60 118.1,223.60 118.6,223.60 119.1,223.60 119.6,223.60 120.1,223.60 120.6,223.60 121.1,223.60 121.6,223.60 122.1,223.60 122.6,223.60 123.1,223.60 123.6,223.60 124.1,223.60 124.6,223.60 125.1,223.60 125.6,223.60 126.1,223.60 126.6,223.60 127.1,223.60 127.6,223.60 128.1,223.60 128.6,223.60 129.1,223.60 129.6,223.60 130.1,223.60 130.6,223.60 131.1,223.60 131.6,223.60 132.1,223.60 132.6,223.60 133.1,223.60 133.6,223.60 134.1,223.60 134.6,223.60 135.1,223.60 135.6,223.60 136.1,223.60 136.6,223.60 137.1,223.60 137.6,223.60 138.1,223.60 138.6,223.59 139.1,223.59 139.6,223.59 140.1,223.58 140.6,223.58 141.1,223.57 141.6,223.55 142.1,223.54 142.6,223.51 143.1,223.49 143.6,223.45 144.1,223.41 144.6,223.35 145.1,223.29 145.6,223.22 146.1,223.13 146.6,223.03 147.1,222.91 147.6,222.79 148.1,222.64 148.6,222.49 149.1,222.32 149.6,222.14 150.1,221.96 150.6,221.76 151.1,221.55 151.6,221.34 152.1,221.12 152.6,220.90 153.1,220.67 153.6,220.45 154.1,220.23 154.6,220.01 155.1,219.80 155.6,219.59 156.1,219.40 156.6,219.22 157.1,219.06 157.6,218.91 158.1,218.79 158.6,218.68 159.1,218.60 159.6,218.54 160.1,218.51 160.6,218.50 161.1,218.52 161.6,218.56 162.1,218.63 162.6,218.71 163.1,218.82 163.6,218.95 164.1,219.09 164.6,219.25 165.1,219.41 165.6,219.59 166.1,219.78 166.6,219.97 167.1,220.16 167.6,220.36 168.1,220.56 168.6,220.76 169.1,220.97 169.6,221.16 170.1,221.36 170.6,221.55 171.1,221.74 171.6,221.92 172.1,222.10 172.6,222.27 173.1,222.43 173.6,222.57 174.1,222.71 174.6,222.84 175.1,222.96 175.6,223.06 176.1,223.15 176.6,223.23 177.1,223.30 177.6,223.36 178.1,223.41 178.6,223.45 179.1,223.49 179.6,223.51 180.1,223.53 180.6,223.55 181.1,223.56 181.6,223.57 182.1,223.57 182.6,223.57 183.1,223.57 183.6,223.56 184.1,223.55 184.6,223.53 185.1,223.52 185.6,223.49 186.1,223.46 186.6,223.42 187.1,223.38 187.6,223.32 188.1,223.26 188.6,223.19 189.1,223.10 189.6,223.01 190.1,222.90 190.6,222.79 191.1,222.66 191.6,222.52 192.1,222.37 192.6,222.22 193.1,222.05 193.6,221.88 194.1,221.70 194.6,221.51 195.1,221.32 195.6,221.13 196.1,220.94 196.6,220.74 197.1,220.55 197.6,220.37 198.1,220.19 198.6,220.02 199.1,219.87 199.6,219.73 200.1,219.60 200.6,219.50 201.1,219.41 201.6,219.35 202.1,219.31 202.6,219.30 203.1,219.31 203.6,219.35 204.1,219.41 204.6,219.49 205.1,219.60 205.6,219.73 206.1,219.87 206.6,220.03 207.1,220.20 207.6,220.38 208.1,220.57 208.6,220.77 209.1,220.97 209.6,221.17 210.1,221.37 210.6,221.57 211.1,221.76 211.6,221.95 212.1,222.13 212.6,222.30 213.1,222.46 213.6,222.61 214.1,222.75 214.6,222.88 215.1,222.99 215.6,223.09 216.1,223.18 216.6,223.26 217.1,223.33 217.6,223.38 218.1,223.43 218.6,223.47 219.1,223.50 219.6,223.52 220.1,223.54 220.6,223.56 221.1,223.57 221.6,223.58 222.1,223.59 222.6,223.59 223.1,223.59 223.6,223.60 224.1,223.60 224.6,223.60 225.1,223.60 225.6,223.60 226.1,223.60 226.6,223.60 227.1,223.60 227.6,223.60 228.1,223.60 228.6,223.60 229.1,223.60 229.6,223.60 230.1,223.60 230.6,223.60 231.1,223.60 231.6,223.60 232.1,223.60 232.6,223.60 233.1,223.60 233.6,223.60 234.1,223.60 234.6,223.60 235.1,223.60 235.6,223.60 236.1,223.60 236.6,223.60 237.1,223.60 237.6,223.60 238.1,223.60 238.6,223.60 239.1,223.60 239.6,223.60 240.1,223.60 240.6,223.60 241.1,223.60 241.6,223.60 242.1,223.60 242.6,223.60 243.1,223.60 243.6,223.60 244.1,223.60 244.6,223.60 245.1,223.60 245.6,223.59 246.1,223.59 246.6,223.58 247.1,223.56 247.6,223.53 248.1,223.50 248.6,223.44 249.1,223.36 249.6,223.25 250.1,223.11 250.6,222.92 251.1,222.68 251.6,222.38 252.1,222.02 252.6,221.59 253.1,221.09 253.6,220.52 254.1,219.88 254.6,219.17 255.1,218.40 255.6,217.57 256.1,216.68 256.6,215.73 257.1,214.74 257.6,213.71 258.1,212.63 258.6,211.51 259.1,210.36 259.6,209.18 260.1,207.96 260.6,206.72 261.1,205.46 261.6,204.18 262.1,202.90 262.6,201.61 263.1,200.34 263.6,199.11 264.1,197.93 264.6,196.83 265.1,195.85 265.6,195.01 266.1,194.34 266.6,193.87 267.1,193.63 267.6,193.63 268.1,193.87 268.6,194.36 269.1,195.06 269.6,195.98 270.1,197.07 270.6,198.30 271.1,199.65 271.6,201.08 272.1,202.56 272.6,204.07 273.1,205.59 273.6,207.11 274.1,208.60 274.6,210.06 275.1,211.47 275.6,212.84 276.1,214.14 276.6,215.37 277.1,216.53 277.6,217.61 278.1,218.59 278.6,219.48 279.1,220.26 279.6,220.95 280.1,221.53 280.6,222.02 281.1,222.42 281.6,222.74 282.1,222.99 282.6,223.17 283.1,223.31 283.6,223.41 284.1,223.48 284.6,223.52 285.1,223.55 285.6,223.57 286.1,223.58 286.6,223.59 287.1,223.60 287.6,223.60 288.1,223.60 288.6,223.60 289.1,223.60 289.6,223.60 290.1,223.60 290.6,223.60 291.1,223.60 291.6,223.60 292.1,223.60 292.6,223.60 293.1,223.60 293.6,223.60 294.1,223.60 294.6,223.60 295.1,223.60 295.6,223.60 296.1,223.60 296.6,223.60 297.1,223.60 297.6,223.60 298.1,223.60 298.6,223.60 299.1,223.60 299.6,223.60 300.1,223.60 300.6,223.60 301.1,223.60 301.6,223.60 302.1,223.60 302.6,223.60 303.1,223.60 303.6,223.60 304.1,223.60 304.6,223.60 305.1,223.60 305.6,223.60 306.1,223.60 306.6,223.60 307.1,223.60 307.6,223.60 308.1,223.60 308.6,223.60 309.1,223.60 309.6,223.60" stroke="#5a5a5a" stroke-width="1.15"/>
</g>
<text transform="translate(50.30 32.10) scale(1.0 1.1)" font-size="10.15" fill="#1a1a1a" stroke="#1a1a1a" stroke-width="0.1">U480-HP</text>
<text transform="translate(50.30 62.20) scale(1.0 1.1)" font-size="10.15" fill="#1a1a1a" stroke="#1a1a1a" stroke-width="0.1">HP-U480</text>
<text transform="translate(50.30 91.30) scale(1.0 1.1)" font-size="10.15" fill="#1a1a1a" stroke="#1a1a1a" stroke-width="0.1">U480</text>
<text transform="translate(50.30 118.20) scale(1.0 1.1)" font-size="10.15" fill="#1a1a1a" stroke="#1a1a1a" stroke-width="0.1">U240-HP</text>
<text transform="translate(50.30 137.80) scale(1.0 1.1)" font-size="10.15" fill="#1a1a1a" stroke="#1a1a1a" stroke-width="0.1">HP-U240</text>
<text transform="translate(50.30 162.20) scale(1.0 1.1)" font-size="10.15" fill="#1a1a1a" stroke="#1a1a1a" stroke-width="0.1">U240</text>
<text transform="translate(50.30 186.20) scale(1.0 1.1)" font-size="10.15" fill="#1a1a1a" stroke="#1a1a1a" stroke-width="0.1">HP</text>
<text transform="translate(50.30 220.40) scale(1.0 1.1)" font-size="10.15" fill="#1a1a1a" stroke="#1a1a1a" stroke-width="0.1">Control</text>
<line x1="43.60" y1="2.00" x2="313.90" y2="2.00" stroke="#3a3a3a" stroke-width="1.2"/>
<line x1="313.40" y1="2.00" x2="313.40" y2="241.40" stroke="#3a3a3a" stroke-width="1.1"/>
<line x1="44.10" y1="1.50" x2="44.10" y2="241.40" stroke="#808080" stroke-width="1.5"/>
<line x1="44.10" y1="237.40" x2="313.40" y2="237.40" stroke="#1e1e1e" stroke-width="1.0"/>
<line x1="40.1" y1="223.60" x2="44.1" y2="223.60" stroke="#2a2a2a" stroke-width="1.1"/>
<text transform="translate(36.40 227.10) scale(1.0 1.18)" font-size="8.7" font-weight="bold" text-anchor="end" fill="#111" stroke="#111" stroke-width="0.25">0</text>
<line x1="40.1" y1="169.80" x2="44.1" y2="169.80" stroke="#2a2a2a" stroke-width="1.1"/>
<text transform="translate(36.40 173.30) scale(1.0 1.18)" font-size="8.7" font-weight="bold" text-anchor="end" fill="#111" stroke="#111" stroke-width="0.25">40</text>
<line x1="40.1" y1="116.00" x2="44.1" y2="116.00" stroke="#2a2a2a" stroke-width="1.1"/>
<text transform="translate(36.40 119.50) scale(1.0 1.18)" font-size="8.7" font-weight="bold" text-anchor="end" fill="#111" stroke="#111" stroke-width="0.25">80</text>
<line x1="40.1" y1="62.20" x2="44.1" y2="62.20" stroke="#2a2a2a" stroke-width="1.1"/>
<text transform="translate(36.40 65.70) scale(1.0 1.18)" font-size="8.7" font-weight="bold" text-anchor="end" fill="#111" stroke="#111" stroke-width="0.25">120</text>
<line x1="40.1" y1="8.40" x2="44.1" y2="8.40" stroke="#2a2a2a" stroke-width="1.1"/>
<text transform="translate(36.40 11.90) scale(1.0 1.18)" font-size="8.7" font-weight="bold" text-anchor="end" fill="#111" stroke="#111" stroke-width="0.25">160</text>
<line x1="41.6" y1="196.70" x2="44.1" y2="196.70" stroke="#2a2a2a" stroke-width="1.1"/>
<line x1="41.6" y1="142.90" x2="44.1" y2="142.90" stroke="#2a2a2a" stroke-width="1.1"/>
<line x1="41.6" y1="89.10" x2="44.1" y2="89.10" stroke="#2a2a2a" stroke-width="1.1"/>
<line x1="41.6" y1="35.30" x2="44.1" y2="35.30" stroke="#2a2a2a" stroke-width="1.1"/>
<line x1="44.20" y1="237.4" x2="44.20" y2="241.4" stroke="#2a2a2a" stroke-width="1.1"/>
<text transform="translate(44.20 253.00) scale(1.0 1.16)" font-size="8.8" font-weight="bold" text-anchor="middle" fill="#111" stroke="#111" stroke-width="0.25">1</text>
<line x1="64.44" y1="237.4" x2="64.44" y2="239.9" stroke="#2a2a2a" stroke-width="1"/>
<line x1="76.29" y1="237.4" x2="76.29" y2="239.9" stroke="#2a2a2a" stroke-width="1"/>
<line x1="84.69" y1="237.4" x2="84.69" y2="239.9" stroke="#2a2a2a" stroke-width="1"/>
<line x1="91.21" y1="237.4" x2="91.21" y2="239.9" stroke="#2a2a2a" stroke-width="1"/>
<line x1="96.53" y1="237.4" x2="96.53" y2="239.9" stroke="#2a2a2a" stroke-width="1"/>
<line x1="101.03" y1="237.4" x2="101.03" y2="239.9" stroke="#2a2a2a" stroke-width="1"/>
<line x1="104.93" y1="237.4" x2="104.93" y2="239.9" stroke="#2a2a2a" stroke-width="1"/>
<line x1="108.37" y1="237.4" x2="108.37" y2="239.9" stroke="#2a2a2a" stroke-width="1"/>
<line x1="111.45" y1="237.4" x2="111.45" y2="241.4" stroke="#2a2a2a" stroke-width="1.1"/>
<text transform="translate(111.45 253.00) scale(1.0 1.16)" font-size="8.8" font-weight="bold" text-anchor="middle" fill="#111" stroke="#111" stroke-width="0.25">10</text>
<line x1="131.69" y1="237.4" x2="131.69" y2="239.9" stroke="#2a2a2a" stroke-width="1"/>
<line x1="143.54" y1="237.4" x2="143.54" y2="239.9" stroke="#2a2a2a" stroke-width="1"/>
<line x1="151.94" y1="237.4" x2="151.94" y2="239.9" stroke="#2a2a2a" stroke-width="1"/>
<line x1="158.46" y1="237.4" x2="158.46" y2="239.9" stroke="#2a2a2a" stroke-width="1"/>
<line x1="163.78" y1="237.4" x2="163.78" y2="239.9" stroke="#2a2a2a" stroke-width="1"/>
<line x1="168.28" y1="237.4" x2="168.28" y2="239.9" stroke="#2a2a2a" stroke-width="1"/>
<line x1="172.18" y1="237.4" x2="172.18" y2="239.9" stroke="#2a2a2a" stroke-width="1"/>
<line x1="175.62" y1="237.4" x2="175.62" y2="239.9" stroke="#2a2a2a" stroke-width="1"/>
<line x1="178.70" y1="237.4" x2="178.70" y2="241.4" stroke="#2a2a2a" stroke-width="1.1"/>
<text transform="translate(178.70 253.00) scale(1.0 1.16)" font-size="8.8" font-weight="bold" text-anchor="middle" fill="#111" stroke="#111" stroke-width="0.25">100</text>
<line x1="198.94" y1="237.4" x2="198.94" y2="239.9" stroke="#2a2a2a" stroke-width="1"/>
<line x1="210.79" y1="237.4" x2="210.79" y2="239.9" stroke="#2a2a2a" stroke-width="1"/>
<line x1="219.19" y1="237.4" x2="219.19" y2="239.9" stroke="#2a2a2a" stroke-width="1"/>
<line x1="225.71" y1="237.4" x2="225.71" y2="239.9" stroke="#2a2a2a" stroke-width="1"/>
<line x1="231.03" y1="237.4" x2="231.03" y2="239.9" stroke="#2a2a2a" stroke-width="1"/>
<line x1="235.53" y1="237.4" x2="235.53" y2="239.9" stroke="#2a2a2a" stroke-width="1"/>
<line x1="239.43" y1="237.4" x2="239.43" y2="239.9" stroke="#2a2a2a" stroke-width="1"/>
<line x1="242.87" y1="237.4" x2="242.87" y2="239.9" stroke="#2a2a2a" stroke-width="1"/>
<line x1="245.95" y1="237.4" x2="245.95" y2="241.4" stroke="#2a2a2a" stroke-width="1.1"/>
<text transform="translate(245.95 253.00) scale(1.0 1.16)" font-size="8.8" font-weight="bold" text-anchor="middle" fill="#111" stroke="#111" stroke-width="0.25">1000</text>
<line x1="266.19" y1="237.4" x2="266.19" y2="239.9" stroke="#2a2a2a" stroke-width="1"/>
<line x1="278.04" y1="237.4" x2="278.04" y2="239.9" stroke="#2a2a2a" stroke-width="1"/>
<line x1="286.44" y1="237.4" x2="286.44" y2="239.9" stroke="#2a2a2a" stroke-width="1"/>
<line x1="292.96" y1="237.4" x2="292.96" y2="239.9" stroke="#2a2a2a" stroke-width="1"/>
<line x1="298.28" y1="237.4" x2="298.28" y2="239.9" stroke="#2a2a2a" stroke-width="1"/>
<line x1="302.78" y1="237.4" x2="302.78" y2="239.9" stroke="#2a2a2a" stroke-width="1"/>
<line x1="306.68" y1="237.4" x2="306.68" y2="239.9" stroke="#2a2a2a" stroke-width="1"/>
<line x1="310.12" y1="237.4" x2="310.12" y2="239.9" stroke="#2a2a2a" stroke-width="1"/>
<line x1="313.20" y1="237.4" x2="313.20" y2="241.4" stroke="#2a2a2a" stroke-width="1.1"/>
<text transform="translate(313.20 253.00) scale(1.0 1.16)" font-size="8.8" font-weight="bold" text-anchor="middle" fill="#111" stroke="#111" stroke-width="0.25">10000</text>
<text transform="translate(178.80 268.80) scale(1.0 1.02)" font-size="11.3" font-weight="bold" text-anchor="middle" fill="#111" stroke="#111" stroke-width="0.25">Pariticle size (nm)</text>
<text transform="translate(12.40 119.10) scale(1.0 1.13) rotate(-90)" font-size="10.8" font-weight="bold" text-anchor="middle" fill="#111" stroke="#111" stroke-width="0.25">Volume (%)</text>
<text transform="translate(1.20 24.80) scale(1.0 1.1)" font-size="24.7" font-weight="bold" fill="#000">A</text>
<rect x="413.70" y="22.77" width="20.6" height="231.73" fill="url(#gB)" stroke="#595959" stroke-width="1"/>
<path d="M424.00 19.4V26.5M421.60 19.4h4.8M421.60 26.5h4.8" stroke="#222" stroke-width="1" fill="none"/>
<text transform="translate(424.00 16.70) scale(1.0 1.06)" font-size="11" text-anchor="middle" fill="#1a1a1a" stroke="#1a1a1a" stroke-width="0.2">h</text>
<text transform="translate(424.00 270.00) scale(1.0 1.08)" font-size="8" font-weight="bold" text-anchor="middle" fill="#111" stroke="#111" stroke-width="0.25">Control</text>
<rect x="448.28" y="76.49" width="20.6" height="178.01" fill="url(#gB)" stroke="#595959" stroke-width="1"/>
<path d="M458.58 71.3V80.9M456.18 71.3h4.8M456.18 80.9h4.8" stroke="#222" stroke-width="1" fill="none"/>
<text transform="translate(458.58 66.50) scale(1.0 1.06)" font-size="11" text-anchor="middle" fill="#1a1a1a" stroke="#1a1a1a" stroke-width="0.2">g</text>
<text transform="translate(458.58 270.00) scale(1.0 1.08)" font-size="8" font-weight="bold" text-anchor="middle" fill="#111" stroke="#111" stroke-width="0.25">HP</text>
<rect x="482.86" y="138.53" width="20.6" height="115.97" fill="url(#gB)" stroke="#595959" stroke-width="1"/>
<path d="M493.16 136.4V140.8M490.76 136.4h4.8M490.76 140.8h4.8" stroke="#222" stroke-width="1" fill="none"/>
<text transform="translate(493.16 133.20) scale(1.0 1.06)" font-size="11" text-anchor="middle" fill="#1a1a1a" stroke="#1a1a1a" stroke-width="0.2">f</text>
<text transform="translate(493.16 270.00) scale(1.0 1.08)" font-size="8" font-weight="bold" text-anchor="middle" fill="#111" stroke="#111" stroke-width="0.25">U240</text>
<rect x="517.44" y="156.33" width="20.6" height="98.17" fill="url(#gB)" stroke="#595959" stroke-width="1"/>
<path d="M527.74 153.3V158.8M525.34 153.3h4.8M525.34 158.8h4.8" stroke="#222" stroke-width="1" fill="none"/>
<text transform="translate(527.74 151.20) scale(1.0 1.06)" font-size="11" text-anchor="middle" fill="#1a1a1a" stroke="#1a1a1a" stroke-width="0.2">e</text>
<text transform="translate(527.74 270.00) scale(1.0 1.08)" font-size="8" font-weight="bold" text-anchor="middle" fill="#111" stroke="#111" stroke-width="0.25">HP-U240</text>
<rect x="552.02" y="181.28" width="20.6" height="73.22" fill="url(#gB)" stroke="#595959" stroke-width="1"/>
<path d="M562.32 178.6V183.3M559.92 178.6h4.8M559.92 183.3h4.8" stroke="#222" stroke-width="1" fill="none"/>
<text transform="translate(562.32 175.80) scale(1.0 1.06)" font-size="11" text-anchor="middle" fill="#1a1a1a" stroke="#1a1a1a" stroke-width="0.2">d</text>
<text transform="translate(562.32 270.00) scale(1.0 1.08)" font-size="8" font-weight="bold" text-anchor="middle" fill="#111" stroke="#111" stroke-width="0.25">U240-HP</text>
<rect x="586.60" y="190.76" width="20.6" height="63.74" fill="url(#gB)" stroke="#595959" stroke-width="1"/>
<path d="M596.90 188.2V193.4M594.50 188.2h4.8M594.50 193.4h4.8" stroke="#222" stroke-width="1" fill="none"/>
<text transform="translate(596.90 185.40) scale(1.0 1.06)" font-size="11" text-anchor="middle" fill="#1a1a1a" stroke="#1a1a1a" stroke-width="0.2">c</text>
<text transform="translate(596.90 270.00) scale(1.0 1.08)" font-size="8" font-weight="bold" text-anchor="middle" fill="#111" stroke="#111" stroke-width="0.25">U480</text>
<rect x="621.18" y="202.57" width="20.6" height="51.93" fill="url(#gB)" stroke="#595959" stroke-width="1"/>
<path d="M631.48 200.9V204.5M629.08 200.9h4.8M629.08 204.5h4.8" stroke="#222" stroke-width="1" fill="none"/>
<text transform="translate(631.48 197.80) scale(1.0 1.06)" font-size="11" text-anchor="middle" fill="#1a1a1a" stroke="#1a1a1a" stroke-width="0.2">b</text>
<text transform="translate(631.48 270.00) scale(1.0 1.08)" font-size="8" font-weight="bold" text-anchor="middle" fill="#111" stroke="#111" stroke-width="0.25">HP-U480</text>
<rect x="655.76" y="207.40" width="20.6" height="47.10" fill="url(#gB)" stroke="#595959" stroke-width="1"/>
<path d="M666.06 206.1V208.3M663.66 206.1h4.8M663.66 208.3h4.8" stroke="#222" stroke-width="1" fill="none"/>
<text transform="translate(666.06 202.90) scale(1.0 1.06)" font-size="11" text-anchor="middle" fill="#1a1a1a" stroke="#1a1a1a" stroke-width="0.2">a</text>
<text transform="translate(666.06 270.00) scale(1.0 1.08)" font-size="8" font-weight="bold" text-anchor="middle" fill="#111" stroke="#111" stroke-width="0.25">U480-HP</text>
<line x1="406.50" y1="5.50" x2="683.90" y2="5.50" stroke="#333" stroke-width="1.2"/>
<line x1="683.40" y1="5.50" x2="683.40" y2="256.70" stroke="#333" stroke-width="1.1"/>
<line x1="406.50" y1="5.50" x2="406.50" y2="256.70" stroke="#222" stroke-width="1.0"/>
<line x1="406.00" y1="254.50" x2="683.90" y2="254.50" stroke="#555" stroke-width="1.3"/>
<line x1="402.5" y1="254.80" x2="406.5" y2="254.80" stroke="#2a2a2a" stroke-width="1"/>
<text transform="translate(399.20 257.80) scale(1.0 1.15)" font-size="8.2" font-weight="bold" text-anchor="end" fill="#111" stroke="#111" stroke-width="0.25">0</text>
<line x1="402.5" y1="204.90" x2="406.5" y2="204.90" stroke="#2a2a2a" stroke-width="1"/>
<text transform="translate(399.20 207.90) scale(1.0 1.15)" font-size="8.2" font-weight="bold" text-anchor="end" fill="#111" stroke="#111" stroke-width="0.25">300</text>
<line x1="402.5" y1="155.00" x2="406.5" y2="155.00" stroke="#2a2a2a" stroke-width="1"/>
<text transform="translate(399.20 158.00) scale(1.0 1.15)" font-size="8.2" font-weight="bold" text-anchor="end" fill="#111" stroke="#111" stroke-width="0.25">600</text>
<line x1="402.5" y1="105.10" x2="406.5" y2="105.10" stroke="#2a2a2a" stroke-width="1"/>
<text transform="translate(399.20 108.10) scale(1.0 1.15)" font-size="8.2" font-weight="bold" text-anchor="end" fill="#111" stroke="#111" stroke-width="0.25">900</text>
<line x1="402.5" y1="55.20" x2="406.5" y2="55.20" stroke="#2a2a2a" stroke-width="1"/>
<text transform="translate(399.20 58.20) scale(1.0 1.15)" font-size="8.2" font-weight="bold" text-anchor="end" fill="#111" stroke="#111" stroke-width="0.25">1200</text>
<line x1="402.5" y1="5.30" x2="406.5" y2="5.30" stroke="#2a2a2a" stroke-width="1"/>
<text transform="translate(399.20 8.30) scale(1.0 1.15)" font-size="8.2" font-weight="bold" text-anchor="end" fill="#111" stroke="#111" stroke-width="0.25">1500</text>
<line x1="404.3" y1="229.85" x2="406.5" y2="229.85" stroke="#2a2a2a" stroke-width="1"/>
<line x1="404.3" y1="179.95" x2="406.5" y2="179.95" stroke="#2a2a2a" stroke-width="1"/>
<line x1="404.3" y1="130.05" x2="406.5" y2="130.05" stroke="#2a2a2a" stroke-width="1"/>
<line x1="404.3" y1="80.15" x2="406.5" y2="80.15" stroke="#2a2a2a" stroke-width="1"/>
<line x1="404.3" y1="30.25" x2="406.5" y2="30.25" stroke="#2a2a2a" stroke-width="1"/>
<line x1="424.00" y1="254.5" x2="424.00" y2="259.0" stroke="#2a2a2a" stroke-width="1"/>
<line x1="441.29" y1="254.5" x2="441.29" y2="256.7" stroke="#2a2a2a" stroke-width="1"/>
<line x1="458.58" y1="254.5" x2="458.58" y2="259.0" stroke="#2a2a2a" stroke-width="1"/>
<line x1="475.87" y1="254.5" x2="475.87" y2="256.7" stroke="#2a2a2a" stroke-width="1"/>
<line x1="493.16" y1="254.5" x2="493.16" y2="259.0" stroke="#2a2a2a" stroke-width="1"/>
<line x1="510.45" y1="254.5" x2="510.45" y2="256.7" stroke="#2a2a2a" stroke-width="1"/>
<line x1="527.74" y1="254.5" x2="527.74" y2="259.0" stroke="#2a2a2a" stroke-width="1"/>
<line x1="545.03" y1="254.5" x2="545.03" y2="256.7" stroke="#2a2a2a" stroke-width="1"/>
<line x1="562.32" y1="254.5" x2="562.32" y2="259.0" stroke="#2a2a2a" stroke-width="1"/>
<line x1="579.61" y1="254.5" x2="579.61" y2="256.7" stroke="#2a2a2a" stroke-width="1"/>
<line x1="596.90" y1="254.5" x2="596.90" y2="259.0" stroke="#2a2a2a" stroke-width="1"/>
<line x1="614.19" y1="254.5" x2="614.19" y2="256.7" stroke="#2a2a2a" stroke-width="1"/>
<line x1="631.48" y1="254.5" x2="631.48" y2="259.0" stroke="#2a2a2a" stroke-width="1"/>
<line x1="648.77" y1="254.5" x2="648.77" y2="256.7" stroke="#2a2a2a" stroke-width="1"/>
<line x1="666.06" y1="254.5" x2="666.06" y2="259.0" stroke="#2a2a2a" stroke-width="1"/>
<text transform="translate(373.00 129.70) scale(1.0 1.05) rotate(-90)" font-size="12.2" font-weight="bold" text-anchor="middle" fill="#111" stroke="#111" stroke-width="0.25">Average particle size (nm)</text>
<text transform="translate(360.80 23.50) scale(1.0 1.08)" font-size="24.7" font-weight="bold" fill="#000">B</text>
<rect x="229.15" y="305.3" width="20.9" height="92.26" fill="url(#gC)" stroke="#777" stroke-width="1"/>
<path d="M239.60 393.3V402.1M237.20 393.3h4.8M237.20 402.1h4.8" stroke="#222" stroke-width="1" fill="none"/>
<text transform="translate(239.60 414.90) scale(1.0 1.06)" font-size="11" text-anchor="middle" fill="#1a1a1a" stroke="#1a1a1a" stroke-width="0.2">a</text>
<text transform="translate(239.60 569.40) scale(1.0 1.08)" font-size="8" font-weight="bold" text-anchor="middle" fill="#111" stroke="#111" stroke-width="0.25">Control</text>
<rect x="264.23" y="305.3" width="20.9" height="104.31" fill="url(#gC)" stroke="#777" stroke-width="1"/>
<path d="M274.68 406.2V413.1M272.28 406.2h4.8M272.28 413.1h4.8" stroke="#222" stroke-width="1" fill="none"/>
<text transform="translate(274.68 426.20) scale(1.0 1.06)" font-size="11" text-anchor="middle" fill="#1a1a1a" stroke="#1a1a1a" stroke-width="0.2">b</text>
<text transform="translate(274.68 569.40) scale(1.0 1.08)" font-size="8" font-weight="bold" text-anchor="middle" fill="#111" stroke="#111" stroke-width="0.25">HP</text>
<rect x="299.31" y="305.3" width="20.9" height="136.09" fill="url(#gC)" stroke="#777" stroke-width="1"/>
<path d="M309.76 438.9V444.4M307.36 438.9h4.8M307.36 444.4h4.8" stroke="#222" stroke-width="1" fill="none"/>
<text transform="translate(309.76 456.90) scale(1.0 1.06)" font-size="11" text-anchor="middle" fill="#1a1a1a" stroke="#1a1a1a" stroke-width="0.2">c</text>
<text transform="translate(309.76 569.40) scale(1.0 1.08)" font-size="8" font-weight="bold" text-anchor="middle" fill="#111" stroke="#111" stroke-width="0.25">U240</text>
<rect x="334.39" y="305.3" width="20.9" height="149.39" fill="url(#gC)" stroke="#777" stroke-width="1"/>
<path d="M344.84 449.5V459.7M342.44 449.5h4.8M342.44 459.7h4.8" stroke="#222" stroke-width="1" fill="none"/>
<text transform="translate(344.84 472.30) scale(1.0 1.06)" font-size="11" text-anchor="middle" fill="#1a1a1a" stroke="#1a1a1a" stroke-width="0.2">de</text>
<text transform="translate(344.84 569.40) scale(1.0 1.08)" font-size="8" font-weight="bold" text-anchor="middle" fill="#111" stroke="#111" stroke-width="0.25">HP-U240</text>
<rect x="369.47" y="305.3" width="20.9" height="147.10" fill="url(#gC)" stroke="#777" stroke-width="1"/>
<path d="M379.92 449.1V455.7M377.52 449.1h4.8M377.52 455.7h4.8" stroke="#222" stroke-width="1" fill="none"/>
<text transform="translate(379.92 468.00) scale(1.0 1.06)" font-size="11" text-anchor="middle" fill="#1a1a1a" stroke="#1a1a1a" stroke-width="0.2">d</text>
<text transform="translate(379.92 569.40) scale(1.0 1.08)" font-size="8" font-weight="bold" text-anchor="middle" fill="#111" stroke="#111" stroke-width="0.25">U240-HP</text>
<rect x="404.55" y="305.3" width="20.9" height="152.92" fill="url(#gC)" stroke="#777" stroke-width="1"/>
<path d="M415.00 457.6V459.0M412.60 457.6h4.8M412.60 459.0h4.8" stroke="#222" stroke-width="1" fill="none"/>
<text transform="translate(415.00 470.30) scale(1.0 1.06)" font-size="11" text-anchor="middle" fill="#1a1a1a" stroke="#1a1a1a" stroke-width="0.2">e</text>
<text transform="translate(415.00 569.40) scale(1.0 1.08)" font-size="8" font-weight="bold" text-anchor="middle" fill="#111" stroke="#111" stroke-width="0.25">U480</text>
<rect x="439.63" y="305.3" width="20.9" height="199.21" fill="url(#gC)" stroke="#777" stroke-width="1"/>
<path d="M450.08 502.5V505.4M447.68 502.5h4.8M447.68 505.4h4.8" stroke="#222" stroke-width="1" fill="none"/>
<text transform="translate(450.08 519.20) scale(1.0 1.06)" font-size="11" text-anchor="middle" fill="#1a1a1a" stroke="#1a1a1a" stroke-width="0.2">f</text>
<text transform="translate(450.08 569.40) scale(1.0 1.08)" font-size="8" font-weight="bold" text-anchor="middle" fill="#111" stroke="#111" stroke-width="0.25">HP-U480</text>
<rect x="474.71" y="305.3" width="20.9" height="211.09" fill="url(#gC)" stroke="#777" stroke-width="1"/>
<path d="M485.16 513.3V519.4M482.76 513.3h4.8M482.76 519.4h4.8" stroke="#222" stroke-width="1" fill="none"/>
<text transform="translate(485.16 530.30) scale(1.0 1.06)" font-size="11" text-anchor="middle" fill="#1a1a1a" stroke="#1a1a1a" stroke-width="0.2">g</text>
<text transform="translate(485.16 569.40) scale(1.0 1.08)" font-size="8" font-weight="bold" text-anchor="middle" fill="#111" stroke="#111" stroke-width="0.25">U480-HP</text>
<line x1="221.60" y1="305.30" x2="503.50" y2="305.30" stroke="#333" stroke-width="1.1"/>
<line x1="503.00" y1="305.30" x2="503.00" y2="556.60" stroke="#444" stroke-width="1.1"/>
<line x1="221.60" y1="305.30" x2="221.60" y2="556.60" stroke="#888" stroke-width="1.5"/>
<line x1="221.10" y1="554.40" x2="503.50" y2="554.40" stroke="#1e1e1e" stroke-width="1.1"/>
<line x1="217.6" y1="304.90" x2="221.6" y2="304.90" stroke="#2a2a2a" stroke-width="1"/>
<text transform="translate(214.50 307.90) scale(1.0 1.15)" font-size="8.2" font-weight="bold" text-anchor="end" fill="#111" stroke="#111" stroke-width="0.25">0</text>
<line x1="217.6" y1="346.45" x2="221.6" y2="346.45" stroke="#2a2a2a" stroke-width="1"/>
<text transform="translate(214.50 349.45) scale(1.0 1.15)" font-size="8.2" font-weight="bold" text-anchor="end" fill="#111" stroke="#111" stroke-width="0.25">-10</text>
<line x1="217.6" y1="388.00" x2="221.6" y2="388.00" stroke="#2a2a2a" stroke-width="1"/>
<text transform="translate(214.50 391.00) scale(1.0 1.15)" font-size="8.2" font-weight="bold" text-anchor="end" fill="#111" stroke="#111" stroke-width="0.25">-20</text>
<line x1="217.6" y1="429.55" x2="221.6" y2="429.55" stroke="#2a2a2a" stroke-width="1"/>
<text transform="translate(214.50 432.55) scale(1.0 1.15)" font-size="8.2" font-weight="bold" text-anchor="end" fill="#111" stroke="#111" stroke-width="0.25">-30</text>
<line x1="217.6" y1="471.10" x2="221.6" y2="471.10" stroke="#2a2a2a" stroke-width="1"/>
<text transform="translate(214.50 474.10) scale(1.0 1.15)" font-size="8.2" font-weight="bold" text-anchor="end" fill="#111" stroke="#111" stroke-width="0.25">-40</text>
<line x1="217.6" y1="512.65" x2="221.6" y2="512.65" stroke="#2a2a2a" stroke-width="1"/>
<text transform="translate(214.50 515.65) scale(1.0 1.15)" font-size="8.2" font-weight="bold" text-anchor="end" fill="#111" stroke="#111" stroke-width="0.25">-50</text>
<line x1="217.6" y1="554.20" x2="221.6" y2="554.20" stroke="#2a2a2a" stroke-width="1"/>
<text transform="translate(214.50 557.20) scale(1.0 1.15)" font-size="8.2" font-weight="bold" text-anchor="end" fill="#111" stroke="#111" stroke-width="0.25">-60</text>
<line x1="219.4" y1="325.67" x2="221.6" y2="325.67" stroke="#2a2a2a" stroke-width="1"/>
<line x1="219.4" y1="367.22" x2="221.6" y2="367.22" stroke="#2a2a2a" stroke-width="1"/>
<line x1="219.4" y1="408.77" x2="221.6" y2="408.77" stroke="#2a2a2a" stroke-width="1"/>
<line x1="219.4" y1="450.32" x2="221.6" y2="450.32" stroke="#2a2a2a" stroke-width="1"/>
<line x1="219.4" y1="491.88" x2="221.6" y2="491.88" stroke="#2a2a2a" stroke-width="1"/>
<line x1="219.4" y1="533.42" x2="221.6" y2="533.42" stroke="#2a2a2a" stroke-width="1"/>
<line x1="239.60" y1="554.4" x2="239.60" y2="558.9" stroke="#2a2a2a" stroke-width="1"/>
<line x1="257.14" y1="554.4" x2="257.14" y2="556.6" stroke="#2a2a2a" stroke-width="1"/>
<line x1="274.68" y1="554.4" x2="274.68" y2="558.9" stroke="#2a2a2a" stroke-width="1"/>
<line x1="292.22" y1="554.4" x2="292.22" y2="556.6" stroke="#2a2a2a" stroke-width="1"/>
<line x1="309.76" y1="554.4" x2="309.76" y2="558.9" stroke="#2a2a2a" stroke-width="1"/>
<line x1="327.30" y1="554.4" x2="327.30" y2="556.6" stroke="#2a2a2a" stroke-width="1"/>
<line x1="344.84" y1="554.4" x2="344.84" y2="558.9" stroke="#2a2a2a" stroke-width="1"/>
<line x1="362.38" y1="554.4" x2="362.38" y2="556.6" stroke="#2a2a2a" stroke-width="1"/>
<line x1="379.92" y1="554.4" x2="379.92" y2="558.9" stroke="#2a2a2a" stroke-width="1"/>
<line x1="397.46" y1="554.4" x2="397.46" y2="556.6" stroke="#2a2a2a" stroke-width="1"/>
<line x1="415.00" y1="554.4" x2="415.00" y2="558.9" stroke="#2a2a2a" stroke-width="1"/>
<line x1="432.54" y1="554.4" x2="432.54" y2="556.6" stroke="#2a2a2a" stroke-width="1"/>
<line x1="450.08" y1="554.4" x2="450.08" y2="558.9" stroke="#2a2a2a" stroke-width="1"/>
<line x1="467.62" y1="554.4" x2="467.62" y2="556.6" stroke="#2a2a2a" stroke-width="1"/>
<line x1="485.16" y1="554.4" x2="485.16" y2="558.9" stroke="#2a2a2a" stroke-width="1"/>
<text transform="translate(192.80 429.50) scale(1.0 1.07) rotate(-90)" font-size="12" font-weight="bold" text-anchor="middle" fill="#111" stroke="#111" stroke-width="0.25">ζ-Potential (mV)</text>
<text transform="translate(180.30 324.20) scale(1.12 1.13)" font-size="24.7" font-weight="bold" fill="#000">C</text></svg>
</body></html>
